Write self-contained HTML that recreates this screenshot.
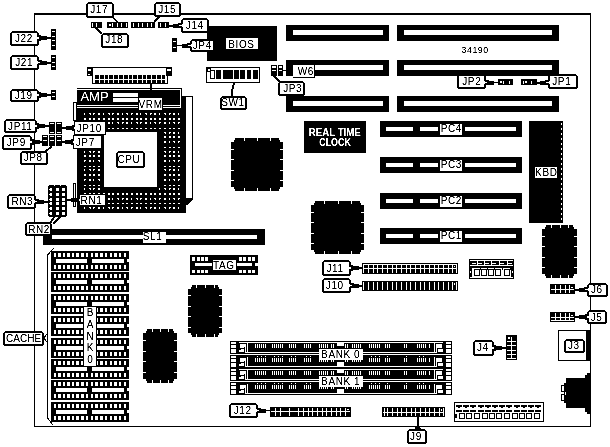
<!DOCTYPE html>
<html><head><meta charset="utf-8"><style>
html,body{margin:0;padding:0;background:#fff;width:610px;height:447px;overflow:hidden}
svg{display:block}
text{font-family:"Liberation Sans",sans-serif}
</style></head><body>
<svg width="610" height="447" viewBox="0 0 610 447" shape-rendering="crispEdges">
<defs><filter id="ta" x="-10%" y="-10%" width="120%" height="120%"><feComponentTransfer><feFuncA type="linear" slope="2" intercept="-0.4"/></feComponentTransfer></filter></defs>
<rect width="610" height="447" fill="#fff"/>
<rect x="34" y="13" width="557" height="2" fill="#000"/>
<rect x="34" y="13" width="1" height="414" fill="#000"/>
<rect x="34" y="426" width="557" height="1" fill="#000"/>
<rect x="590" y="13" width="1" height="414" fill="#000"/>
<rect x="286" y="25" width="103" height="16" fill="#000"/>
<rect x="293" y="30" width="90" height="5" fill="#fff"/>
<rect x="397" y="25" width="162" height="16" fill="#000"/>
<rect x="404" y="30" width="148" height="5" fill="#fff"/>
<rect x="286" y="60" width="103" height="16" fill="#000"/>
<rect x="293" y="65" width="90" height="5" fill="#fff"/>
<rect x="397" y="60" width="162" height="16" fill="#000"/>
<rect x="404" y="65" width="148" height="5" fill="#fff"/>
<rect x="286" y="96" width="103" height="16" fill="#000"/>
<rect x="293" y="101" width="90" height="5" fill="#fff"/>
<rect x="397" y="96" width="162" height="16" fill="#000"/>
<rect x="404" y="101" width="148" height="5" fill="#fff"/>
<text x="461.5" y="52.6" font-size="8.8" fill="#000" text-anchor="start" filter="url(#ta)" letter-spacing="0.55">34190</text>
<rect x="380" y="121" width="142" height="16" fill="#000"/>
<rect x="386" y="127" width="27" height="4" fill="#fff"/>
<rect x="420" y="127" width="18" height="4" fill="#fff"/>
<rect x="465" y="127" width="51" height="4" fill="#fff"/>
<rect x="440" y="124" width="22" height="11" fill="#fff"/>
<text x="451.3" y="132.2" font-size="10" fill="#000" text-anchor="middle" filter="url(#ta)"  letter-spacing="0.6">PC4</text>
<rect x="380" y="157" width="142" height="16" fill="#000"/>
<rect x="386" y="163" width="27" height="4" fill="#fff"/>
<rect x="420" y="163" width="18" height="4" fill="#fff"/>
<rect x="465" y="163" width="51" height="4" fill="#fff"/>
<rect x="440" y="160" width="22" height="11" fill="#fff"/>
<text x="451.3" y="168.2" font-size="10" fill="#000" text-anchor="middle" filter="url(#ta)"  letter-spacing="0.6">PC3</text>
<rect x="380" y="193" width="142" height="16" fill="#000"/>
<rect x="386" y="199" width="27" height="4" fill="#fff"/>
<rect x="420" y="199" width="18" height="4" fill="#fff"/>
<rect x="465" y="199" width="51" height="4" fill="#fff"/>
<rect x="440" y="196" width="22" height="11" fill="#fff"/>
<text x="451.3" y="204.2" font-size="10" fill="#000" text-anchor="middle" filter="url(#ta)"  letter-spacing="0.6">PC2</text>
<rect x="380" y="228" width="142" height="16" fill="#000"/>
<rect x="386" y="234" width="27" height="4" fill="#fff"/>
<rect x="420" y="234" width="18" height="4" fill="#fff"/>
<rect x="465" y="234" width="51" height="4" fill="#fff"/>
<rect x="440" y="231" width="22" height="11" fill="#fff"/>
<text x="451.3" y="239.2" font-size="10" fill="#000" text-anchor="middle" filter="url(#ta)"  letter-spacing="0.6">PC1</text>
<rect x="529" y="121" width="34" height="102" fill="#000"/>
<rect x="561" y="123" width="1" height="2" fill="#fff"/>
<rect x="561" y="128" width="1" height="2" fill="#fff"/>
<rect x="561" y="133" width="1" height="2" fill="#fff"/>
<rect x="561" y="138" width="1" height="2" fill="#fff"/>
<rect x="561" y="143" width="1" height="2" fill="#fff"/>
<rect x="561" y="148" width="1" height="2" fill="#fff"/>
<rect x="561" y="153" width="1" height="2" fill="#fff"/>
<rect x="561" y="158" width="1" height="2" fill="#fff"/>
<rect x="561" y="163" width="1" height="2" fill="#fff"/>
<rect x="561" y="168" width="1" height="2" fill="#fff"/>
<rect x="561" y="173" width="1" height="2" fill="#fff"/>
<rect x="561" y="178" width="1" height="2" fill="#fff"/>
<rect x="561" y="183" width="1" height="2" fill="#fff"/>
<rect x="561" y="188" width="1" height="2" fill="#fff"/>
<rect x="561" y="193" width="1" height="2" fill="#fff"/>
<rect x="561" y="198" width="1" height="2" fill="#fff"/>
<rect x="561" y="203" width="1" height="2" fill="#fff"/>
<rect x="561" y="208" width="1" height="2" fill="#fff"/>
<rect x="561" y="213" width="1" height="2" fill="#fff"/>
<rect x="561" y="218" width="1" height="2" fill="#fff"/>
<rect x="535" y="167" width="22" height="11" fill="#fff"/>
<text x="546.3" y="176" font-size="10" fill="#000" text-anchor="middle" filter="url(#ta)"  letter-spacing="0.6">KBD</text>
<rect x="304" y="121" width="62" height="32" fill="#000"/>
<text x="308.8" y="136" font-size="10.5" fill="#fff" text-anchor="start" filter="url(#ta)" font-weight="bold" textLength="52" lengthAdjust="spacingAndGlyphs">REAL TIME</text>
<text x="319.3" y="146.4" font-size="10.5" fill="#fff" text-anchor="start" filter="url(#ta)" font-weight="bold" textLength="31.5" lengthAdjust="spacingAndGlyphs">CLOCK</text>
<path d="M235,138H279V140H280V142H283V187H280V189H279V191H235V189H234V187H231V142H234V140H235Z" fill="#000"/>
<rect x="244" y="138" width="1" height="3" fill="#fff"/>
<rect x="244" y="188" width="1" height="3" fill="#fff"/>
<rect x="257" y="138" width="1" height="3" fill="#fff"/>
<rect x="257" y="188" width="1" height="3" fill="#fff"/>
<rect x="270" y="138" width="1" height="3" fill="#fff"/>
<rect x="270" y="188" width="1" height="3" fill="#fff"/>
<rect x="231" y="149" width="3" height="1" fill="#fff"/>
<rect x="280" y="149" width="3" height="1" fill="#fff"/>
<rect x="231" y="159" width="3" height="1" fill="#fff"/>
<rect x="280" y="159" width="3" height="1" fill="#fff"/>
<rect x="231" y="170" width="3" height="1" fill="#fff"/>
<rect x="280" y="170" width="3" height="1" fill="#fff"/>
<rect x="231" y="180" width="3" height="1" fill="#fff"/>
<rect x="280" y="180" width="3" height="1" fill="#fff"/>
<path d="M315,201H360V203H361V205H364V250H361V252H360V254H315V252H314V250H311V205H314V203H315Z" fill="#000"/>
<rect x="324" y="201" width="1" height="3" fill="#fff"/>
<rect x="324" y="251" width="1" height="3" fill="#fff"/>
<rect x="338" y="201" width="1" height="3" fill="#fff"/>
<rect x="338" y="251" width="1" height="3" fill="#fff"/>
<rect x="351" y="201" width="1" height="3" fill="#fff"/>
<rect x="351" y="251" width="1" height="3" fill="#fff"/>
<rect x="311" y="212" width="3" height="1" fill="#fff"/>
<rect x="361" y="212" width="3" height="1" fill="#fff"/>
<rect x="311" y="222" width="3" height="1" fill="#fff"/>
<rect x="361" y="222" width="3" height="1" fill="#fff"/>
<rect x="311" y="233" width="3" height="1" fill="#fff"/>
<rect x="361" y="233" width="3" height="1" fill="#fff"/>
<rect x="311" y="243" width="3" height="1" fill="#fff"/>
<rect x="361" y="243" width="3" height="1" fill="#fff"/>
<path d="M192,285H218V287H219V289H222V333H219V335H218V337H192V335H191V333H188V289H191V287H192Z" fill="#000"/>
<rect x="196" y="285" width="1" height="3" fill="#fff"/>
<rect x="196" y="334" width="1" height="3" fill="#fff"/>
<rect x="205" y="285" width="1" height="3" fill="#fff"/>
<rect x="205" y="334" width="1" height="3" fill="#fff"/>
<rect x="214" y="285" width="1" height="3" fill="#fff"/>
<rect x="214" y="334" width="1" height="3" fill="#fff"/>
<rect x="188" y="295" width="3" height="1" fill="#fff"/>
<rect x="219" y="295" width="3" height="1" fill="#fff"/>
<rect x="188" y="306" width="3" height="1" fill="#fff"/>
<rect x="219" y="306" width="3" height="1" fill="#fff"/>
<rect x="188" y="316" width="3" height="1" fill="#fff"/>
<rect x="219" y="316" width="3" height="1" fill="#fff"/>
<rect x="188" y="327" width="3" height="1" fill="#fff"/>
<rect x="219" y="327" width="3" height="1" fill="#fff"/>
<path d="M147,329H173V331H174V333H177V379H174V381H173V383H147V381H146V379H143V333H146V331H147Z" fill="#000"/>
<rect x="152" y="329" width="1" height="3" fill="#fff"/>
<rect x="152" y="380" width="1" height="3" fill="#fff"/>
<rect x="160" y="329" width="1" height="3" fill="#fff"/>
<rect x="160" y="380" width="1" height="3" fill="#fff"/>
<rect x="168" y="329" width="1" height="3" fill="#fff"/>
<rect x="168" y="380" width="1" height="3" fill="#fff"/>
<rect x="143" y="340" width="3" height="1" fill="#fff"/>
<rect x="174" y="340" width="3" height="1" fill="#fff"/>
<rect x="143" y="351" width="3" height="1" fill="#fff"/>
<rect x="174" y="351" width="3" height="1" fill="#fff"/>
<rect x="143" y="361" width="3" height="1" fill="#fff"/>
<rect x="174" y="361" width="3" height="1" fill="#fff"/>
<rect x="143" y="372" width="3" height="1" fill="#fff"/>
<rect x="174" y="372" width="3" height="1" fill="#fff"/>
<path d="M546,225H573V227H574V229H577V274H574V276H573V278H546V276H545V274H542V229H545V227H546Z" fill="#000"/>
<rect x="551" y="225" width="1" height="3" fill="#fff"/>
<rect x="551" y="275" width="1" height="3" fill="#fff"/>
<rect x="560" y="225" width="1" height="3" fill="#fff"/>
<rect x="560" y="275" width="1" height="3" fill="#fff"/>
<rect x="568" y="225" width="1" height="3" fill="#fff"/>
<rect x="568" y="275" width="1" height="3" fill="#fff"/>
<rect x="542" y="236" width="3" height="1" fill="#fff"/>
<rect x="574" y="236" width="3" height="1" fill="#fff"/>
<rect x="542" y="246" width="3" height="1" fill="#fff"/>
<rect x="574" y="246" width="3" height="1" fill="#fff"/>
<rect x="542" y="257" width="3" height="1" fill="#fff"/>
<rect x="574" y="257" width="3" height="1" fill="#fff"/>
<rect x="542" y="267" width="3" height="1" fill="#fff"/>
<rect x="574" y="267" width="3" height="1" fill="#fff"/>
<rect x="550" y="284" width="25" height="10" fill="#000"/>
<rect x="551" y="289" width="23" height="1" fill="#fff"/>
<rect x="555" y="285" width="1" height="8" fill="#fff"/>
<rect x="560" y="285" width="1" height="8" fill="#fff"/>
<rect x="565" y="285" width="1" height="8" fill="#fff"/>
<rect x="569" y="285" width="1" height="8" fill="#fff"/>
<rect x="571" y="287" width="2" height="1" fill="#fff"/>
<rect x="588" y="284" width="19" height="12" rx="2.5" fill="#fff" stroke="#000" stroke-width="2"/>
<text x="596.9" y="293" font-size="10" fill="#000" text-anchor="middle" filter="url(#ta)"  letter-spacing="0.6">J6</text>
<path d="M588,286.0L584,287.5H579V291.5H584L588,293.0Z" fill="#000"/>
<rect x="575" y="288.5" width="4" height="2.0" fill="#000"/>
<path d="M589,288.0L585.5,289.5L589,291.0Z" fill="#fff"/>
<rect x="550" y="312" width="25" height="10" fill="#000"/>
<rect x="551" y="317" width="23" height="1" fill="#fff"/>
<rect x="551" y="320" width="23" height="1" fill="#fff"/>
<rect x="555" y="313" width="1" height="8" fill="#fff"/>
<rect x="560" y="313" width="1" height="8" fill="#fff"/>
<rect x="565" y="313" width="1" height="8" fill="#fff"/>
<rect x="569" y="313" width="1" height="8" fill="#fff"/>
<rect x="571" y="315" width="2" height="1" fill="#fff"/>
<rect x="588" y="311" width="18" height="12" rx="2.5" fill="#fff" stroke="#000" stroke-width="2"/>
<text x="596.5999999999999" y="320.9" font-size="10" fill="#000" text-anchor="middle" filter="url(#ta)"  letter-spacing="0.6">J5</text>
<path d="M588,313.5L584,315H579V319H584L588,320.5Z" fill="#000"/>
<rect x="575" y="316.0" width="4" height="2.0" fill="#000"/>
<path d="M589,315.5L585.5,317L589,318.5Z" fill="#fff"/>
<rect x="558.5" y="330.5" width="28" height="30" fill="#fff" stroke="#000" stroke-width="1"/>
<rect x="586" y="330" width="5" height="31" fill="#000"/>
<rect x="565" y="340" width="19" height="12" rx="2.5" fill="#fff" stroke="#000" stroke-width="2"/>
<text x="573.8" y="349.2" font-size="10" fill="#000" text-anchor="middle" filter="url(#ta)"  letter-spacing="0.6">J3</text>
<path d="M566,378H585V375H587V373H591V414H587V412H585V408H566V403H564V383H566Z" fill="#000"/>
<rect x="561.5" y="385.5" width="3" height="6" fill="#fff" stroke="#000" stroke-width="1"/>
<rect x="561.5" y="394.5" width="3" height="6" fill="#fff" stroke="#000" stroke-width="1"/>
<rect x="565" y="392" width="1" height="3" fill="#fff"/>
<rect x="454.5" y="402.5" width="89" height="19" fill="#fff" stroke="#000" stroke-width="1"/>
<rect x="456" y="405" width="6" height="2" fill="#000"/>
<rect x="458" y="407" width="2" height="1" fill="#000"/>
<rect x="456" y="410" width="6" height="2" fill="#000"/>
<rect x="463" y="405" width="6" height="2" fill="#000"/>
<rect x="465" y="407" width="2" height="1" fill="#000"/>
<rect x="463" y="410" width="6" height="2" fill="#000"/>
<rect x="470" y="405" width="6" height="2" fill="#000"/>
<rect x="472" y="407" width="2" height="1" fill="#000"/>
<rect x="470" y="410" width="6" height="2" fill="#000"/>
<rect x="478" y="405" width="6" height="2" fill="#000"/>
<rect x="480" y="407" width="2" height="1" fill="#000"/>
<rect x="478" y="410" width="6" height="2" fill="#000"/>
<rect x="485" y="405" width="6" height="2" fill="#000"/>
<rect x="487" y="407" width="2" height="1" fill="#000"/>
<rect x="485" y="410" width="6" height="2" fill="#000"/>
<rect x="492" y="405" width="6" height="2" fill="#000"/>
<rect x="494" y="407" width="2" height="1" fill="#000"/>
<rect x="492" y="410" width="6" height="2" fill="#000"/>
<rect x="499" y="405" width="6" height="2" fill="#000"/>
<rect x="501" y="407" width="2" height="1" fill="#000"/>
<rect x="499" y="410" width="6" height="2" fill="#000"/>
<rect x="506" y="405" width="6" height="2" fill="#000"/>
<rect x="508" y="407" width="2" height="1" fill="#000"/>
<rect x="506" y="410" width="6" height="2" fill="#000"/>
<rect x="514" y="405" width="6" height="2" fill="#000"/>
<rect x="516" y="407" width="2" height="1" fill="#000"/>
<rect x="514" y="410" width="6" height="2" fill="#000"/>
<rect x="521" y="405" width="6" height="2" fill="#000"/>
<rect x="523" y="407" width="2" height="1" fill="#000"/>
<rect x="521" y="410" width="6" height="2" fill="#000"/>
<rect x="528" y="405" width="6" height="2" fill="#000"/>
<rect x="530" y="407" width="2" height="1" fill="#000"/>
<rect x="528" y="410" width="6" height="2" fill="#000"/>
<rect x="535" y="405" width="6" height="2" fill="#000"/>
<rect x="537" y="407" width="2" height="1" fill="#000"/>
<rect x="535" y="410" width="6" height="2" fill="#000"/>
<rect x="459.5" y="413.5" width="5" height="5" fill="#fff" stroke="#000" stroke-width="1"/>
<rect x="466.5" y="413.5" width="5" height="5" fill="#fff" stroke="#000" stroke-width="1"/>
<rect x="474.5" y="413.5" width="5" height="5" fill="#fff" stroke="#000" stroke-width="1"/>
<rect x="482.5" y="413.5" width="5" height="5" fill="#fff" stroke="#000" stroke-width="1"/>
<rect x="489.5" y="413.5" width="5" height="5" fill="#fff" stroke="#000" stroke-width="1"/>
<rect x="496.5" y="413.5" width="5" height="5" fill="#fff" stroke="#000" stroke-width="1"/>
<rect x="504.5" y="413.5" width="5" height="5" fill="#fff" stroke="#000" stroke-width="1"/>
<rect x="512.5" y="413.5" width="5" height="5" fill="#fff" stroke="#000" stroke-width="1"/>
<rect x="519.5" y="413.5" width="5" height="5" fill="#fff" stroke="#000" stroke-width="1"/>
<rect x="526.5" y="413.5" width="5" height="5" fill="#fff" stroke="#000" stroke-width="1"/>
<rect x="534.5" y="413.5" width="5" height="5" fill="#fff" stroke="#000" stroke-width="1"/>
<rect x="454" y="414" width="3" height="4" fill="#000"/>
<rect x="506" y="335" width="11" height="25" fill="#000"/>
<rect x="507" y="341" width="9" height="1" fill="#fff"/>
<rect x="507" y="345" width="9" height="1" fill="#fff"/>
<rect x="507" y="350" width="9" height="1" fill="#fff"/>
<rect x="507" y="354" width="9" height="1" fill="#fff"/>
<rect x="507" y="358" width="9" height="1" fill="#fff"/>
<rect x="511" y="337" width="1" height="22" fill="#fff"/>
<rect x="508" y="337" width="2" height="2" fill="#fff"/>
<rect x="474" y="341" width="19" height="14" rx="2.5" fill="#fff" stroke="#000" stroke-width="2"/>
<text x="482.8" y="351.2" font-size="10" fill="#000" text-anchor="middle" filter="url(#ta)"  letter-spacing="0.6">J4</text>
<path d="M493,344.5L497,346H502V350H497L493,351.5Z" fill="#000"/>
<rect x="502" y="347.0" width="4" height="2.0" fill="#000"/>
<path d="M492,346.5L495.5,348L492,349.5Z" fill="#fff"/>
<rect x="382" y="407" width="63" height="10" fill="#000"/>
<rect x="384" y="408" width="1" height="8" fill="#fff"/>
<rect x="387" y="408" width="1" height="8" fill="#fff"/>
<rect x="392" y="408" width="1" height="8" fill="#fff"/>
<rect x="397" y="408" width="1" height="8" fill="#fff"/>
<rect x="401" y="408" width="1" height="8" fill="#fff"/>
<rect x="406" y="408" width="1" height="8" fill="#fff"/>
<rect x="411" y="408" width="1" height="8" fill="#fff"/>
<rect x="415" y="408" width="1" height="8" fill="#fff"/>
<rect x="420" y="408" width="1" height="8" fill="#fff"/>
<rect x="425" y="408" width="1" height="8" fill="#fff"/>
<rect x="429" y="408" width="1" height="8" fill="#fff"/>
<rect x="434" y="408" width="1" height="8" fill="#fff"/>
<rect x="439" y="408" width="1" height="8" fill="#fff"/>
<rect x="443" y="408" width="1" height="8" fill="#fff"/>
<rect x="383" y="412" width="61" height="1" fill="#fff"/>
<rect x="441" y="409" width="1" height="2" fill="#fff"/>
<rect x="408" y="430" width="18" height="13" rx="2.5" fill="#fff" stroke="#000" stroke-width="2"/>
<text x="416.0" y="439.9" font-size="10" fill="#000" text-anchor="middle" filter="url(#ta)"  letter-spacing="0.6">J9</text>
<rect x="417" y="417" width="2" height="9" fill="#000"/>
<path d="M416,426H420L421,429H415Z" fill="#000"/>
<rect x="270" y="407" width="81" height="10" fill="#000"/>
<rect x="275" y="408" width="1" height="8" fill="#fff"/>
<rect x="280" y="408" width="1" height="8" fill="#fff"/>
<rect x="289" y="408" width="1" height="8" fill="#fff"/>
<rect x="298" y="408" width="1" height="8" fill="#fff"/>
<rect x="303" y="408" width="1" height="8" fill="#fff"/>
<rect x="308" y="408" width="1" height="8" fill="#fff"/>
<rect x="312" y="408" width="1" height="8" fill="#fff"/>
<rect x="317" y="408" width="1" height="8" fill="#fff"/>
<rect x="322" y="408" width="1" height="8" fill="#fff"/>
<rect x="326" y="408" width="1" height="8" fill="#fff"/>
<rect x="331" y="408" width="1" height="8" fill="#fff"/>
<rect x="336" y="408" width="1" height="8" fill="#fff"/>
<rect x="340" y="408" width="1" height="8" fill="#fff"/>
<rect x="345" y="408" width="1" height="8" fill="#fff"/>
<rect x="271" y="411" width="79" height="1" fill="#fff"/>
<rect x="347" y="409" width="2" height="1" fill="#fff"/>
<rect x="230" y="404" width="27" height="13" rx="2.5" fill="#fff" stroke="#000" stroke-width="2"/>
<text x="242.70000000000002" y="413.8" font-size="10" fill="#000" text-anchor="middle" filter="url(#ta)"  letter-spacing="0.6">J12</text>
<path d="M257,407.0L261,408.5H266V412.5H261L257,414.0Z" fill="#000"/>
<rect x="266" y="410.0" width="4" height="1.0" fill="#000"/>
<path d="M256,409.0L259.5,410.5L256,412.0Z" fill="#fff"/>
<rect x="362" y="263" width="96" height="11" fill="#000"/>
<rect x="363" y="264" width="1" height="9" fill="#fff"/>
<rect x="368" y="264" width="1" height="9" fill="#fff"/>
<rect x="373" y="264" width="1" height="9" fill="#fff"/>
<rect x="377" y="264" width="1" height="9" fill="#fff"/>
<rect x="382" y="264" width="1" height="9" fill="#fff"/>
<rect x="387" y="264" width="1" height="9" fill="#fff"/>
<rect x="392" y="264" width="1" height="9" fill="#fff"/>
<rect x="396" y="264" width="1" height="9" fill="#fff"/>
<rect x="401" y="264" width="1" height="9" fill="#fff"/>
<rect x="406" y="264" width="1" height="9" fill="#fff"/>
<rect x="410" y="264" width="1" height="9" fill="#fff"/>
<rect x="415" y="264" width="1" height="9" fill="#fff"/>
<rect x="420" y="264" width="1" height="9" fill="#fff"/>
<rect x="424" y="264" width="1" height="9" fill="#fff"/>
<rect x="429" y="264" width="1" height="9" fill="#fff"/>
<rect x="434" y="264" width="1" height="9" fill="#fff"/>
<rect x="438" y="264" width="1" height="9" fill="#fff"/>
<rect x="443" y="264" width="1" height="9" fill="#fff"/>
<rect x="448" y="264" width="1" height="9" fill="#fff"/>
<rect x="452" y="264" width="1" height="9" fill="#fff"/>
<rect x="363" y="264" width="94" height="1" fill="#fff"/>
<rect x="363" y="268" width="94" height="1" fill="#fff"/>
<rect x="456" y="264" width="1" height="9" fill="#fff"/>
<rect x="453" y="265" width="3" height="3" fill="#000"/>
<rect x="454" y="266" width="1" height="1" fill="#fff"/>
<rect x="323" y="261" width="27" height="14" rx="2.5" fill="#fff" stroke="#000" stroke-width="2"/>
<text x="335.0" y="271.8" font-size="10" fill="#000" text-anchor="middle" filter="url(#ta)"  letter-spacing="0.6">J11</text>
<path d="M350,264.5L354,266H359V270H354L350,271.5Z" fill="#000"/>
<rect x="359" y="267.0" width="3" height="2.0" fill="#000"/>
<path d="M349,266.5L352.5,268L349,269.5Z" fill="#fff"/>
<rect x="362" y="281" width="96" height="10" fill="#000"/>
<rect x="363" y="282" width="1" height="8" fill="#fff"/>
<rect x="368" y="282" width="1" height="8" fill="#fff"/>
<rect x="373" y="282" width="1" height="8" fill="#fff"/>
<rect x="377" y="282" width="1" height="8" fill="#fff"/>
<rect x="382" y="282" width="1" height="8" fill="#fff"/>
<rect x="387" y="282" width="1" height="8" fill="#fff"/>
<rect x="392" y="282" width="1" height="8" fill="#fff"/>
<rect x="396" y="282" width="1" height="8" fill="#fff"/>
<rect x="401" y="282" width="1" height="8" fill="#fff"/>
<rect x="406" y="282" width="1" height="8" fill="#fff"/>
<rect x="410" y="282" width="1" height="8" fill="#fff"/>
<rect x="415" y="282" width="1" height="8" fill="#fff"/>
<rect x="420" y="282" width="1" height="8" fill="#fff"/>
<rect x="424" y="282" width="1" height="8" fill="#fff"/>
<rect x="429" y="282" width="1" height="8" fill="#fff"/>
<rect x="434" y="282" width="1" height="8" fill="#fff"/>
<rect x="438" y="282" width="1" height="8" fill="#fff"/>
<rect x="443" y="282" width="1" height="8" fill="#fff"/>
<rect x="448" y="282" width="1" height="8" fill="#fff"/>
<rect x="452" y="282" width="1" height="8" fill="#fff"/>
<rect x="456" y="282" width="1" height="8" fill="#fff"/>
<rect x="453" y="282" width="3" height="8" fill="#000"/>
<rect x="454" y="283" width="1" height="2" fill="#fff"/>
<rect x="323" y="279" width="27" height="13" rx="2.5" fill="#fff" stroke="#000" stroke-width="2"/>
<text x="334.8" y="289.1" font-size="10" fill="#000" text-anchor="middle" filter="url(#ta)"  letter-spacing="0.6">J10</text>
<path d="M350,282.0L354,283.5H359V287.5H354L350,289.0Z" fill="#000"/>
<rect x="359" y="284.5" width="3" height="2.0" fill="#000"/>
<path d="M349,284.0L352.5,285.5L349,287.0Z" fill="#fff"/>
<rect x="469.5" y="259.5" width="44" height="19" fill="#fff" stroke="#000" stroke-width="1"/>
<rect x="470" y="261" width="43" height="4" fill="#000"/>
<rect x="472" y="263" width="4" height="1" fill="#fff"/>
<rect x="478" y="263" width="4" height="1" fill="#fff"/>
<rect x="485" y="263" width="4" height="1" fill="#fff"/>
<rect x="492" y="263" width="4" height="1" fill="#fff"/>
<rect x="500" y="263" width="4" height="1" fill="#fff"/>
<rect x="508" y="263" width="4" height="1" fill="#fff"/>
<rect x="477" y="261" width="1" height="4" fill="#fff"/>
<rect x="484" y="261" width="1" height="4" fill="#fff"/>
<rect x="491" y="261" width="1" height="4" fill="#fff"/>
<rect x="499" y="261" width="1" height="4" fill="#fff"/>
<rect x="507" y="261" width="1" height="4" fill="#fff"/>
<rect x="470" y="266" width="43" height="2" fill="#000"/>
<rect x="480" y="268" width="1" height="2" fill="#000"/>
<rect x="487" y="268" width="1" height="2" fill="#000"/>
<rect x="494" y="268" width="1" height="2" fill="#000"/>
<rect x="502" y="268" width="1" height="2" fill="#000"/>
<rect x="510" y="268" width="1" height="2" fill="#000"/>
<rect x="474.5" y="269.5" width="5" height="6" fill="#fff" stroke="#000" stroke-width="1"/>
<rect x="481.5" y="269.5" width="5" height="6" fill="#fff" stroke="#000" stroke-width="1"/>
<rect x="488.5" y="269.5" width="5" height="6" fill="#fff" stroke="#000" stroke-width="1"/>
<rect x="495.5" y="269.5" width="5" height="6" fill="#fff" stroke="#000" stroke-width="1"/>
<rect x="504.5" y="269.5" width="5" height="6" fill="#fff" stroke="#000" stroke-width="1"/>
<rect x="470" y="268" width="2" height="9" fill="#000"/>
<rect x="470" y="271" width="1" height="2" fill="#fff"/>
<rect x="511" y="268" width="2" height="9" fill="#000"/>
<rect x="512" y="271" width="1" height="2" fill="#fff"/>
<rect x="230" y="341" width="222" height="54" fill="#000"/>
<rect x="230" y="354" width="222" height="1" fill="#fff"/>
<rect x="230" y="381" width="222" height="1" fill="#fff"/>
<rect x="231" y="342" width="5" height="2" fill="#fff"/>
<rect x="446" y="342" width="5" height="2" fill="#fff"/>
<rect x="231" y="345" width="5" height="3" fill="#fff"/>
<rect x="446" y="345" width="5" height="3" fill="#fff"/>
<rect x="231" y="349" width="5" height="4" fill="#fff"/>
<rect x="446" y="349" width="5" height="4" fill="#fff"/>
<rect x="239" y="342" width="204" height="1" fill="#fff"/>
<rect x="245" y="352" width="191" height="1" fill="#fff"/>
<rect x="247" y="343" width="1" height="9" fill="#fff"/>
<rect x="434" y="343" width="1" height="9" fill="#fff"/>
<rect x="240" y="344" width="6" height="4" fill="#fff"/>
<rect x="239" y="349" width="5" height="3" fill="#fff"/>
<rect x="245" y="348" width="1" height="5" fill="#fff"/>
<rect x="244" y="347" width="1" height="1" fill="#000"/>
<rect x="239" y="349" width="2" height="1" fill="#000"/>
<rect x="436" y="344" width="6" height="4" fill="#fff"/>
<rect x="438" y="349" width="5" height="3" fill="#fff"/>
<rect x="436" y="348" width="1" height="5" fill="#fff"/>
<rect x="255" y="344" width="1" height="4" fill="#fff"/>
<rect x="257" y="344" width="1" height="4" fill="#fff"/>
<rect x="259" y="344" width="1" height="4" fill="#fff"/>
<rect x="261" y="344" width="1" height="4" fill="#fff"/>
<rect x="263" y="344" width="1" height="4" fill="#fff"/>
<rect x="265" y="344" width="1" height="4" fill="#fff"/>
<rect x="272" y="344" width="1" height="4" fill="#fff"/>
<rect x="274" y="344" width="1" height="4" fill="#fff"/>
<rect x="276" y="344" width="1" height="4" fill="#fff"/>
<rect x="278" y="344" width="1" height="4" fill="#fff"/>
<rect x="280" y="344" width="1" height="4" fill="#fff"/>
<rect x="282" y="344" width="1" height="4" fill="#fff"/>
<rect x="289" y="344" width="1" height="4" fill="#fff"/>
<rect x="291" y="344" width="1" height="4" fill="#fff"/>
<rect x="293" y="344" width="1" height="4" fill="#fff"/>
<rect x="295" y="344" width="1" height="4" fill="#fff"/>
<rect x="304" y="344" width="1" height="4" fill="#fff"/>
<rect x="306" y="344" width="1" height="4" fill="#fff"/>
<rect x="308" y="344" width="1" height="4" fill="#fff"/>
<rect x="310" y="344" width="1" height="4" fill="#fff"/>
<rect x="319" y="344" width="1" height="4" fill="#fff"/>
<rect x="321" y="344" width="1" height="4" fill="#fff"/>
<rect x="323" y="344" width="1" height="4" fill="#fff"/>
<rect x="325" y="344" width="1" height="4" fill="#fff"/>
<rect x="327" y="344" width="1" height="4" fill="#fff"/>
<rect x="331" y="344" width="1" height="4" fill="#fff"/>
<rect x="333" y="344" width="1" height="4" fill="#fff"/>
<rect x="345" y="344" width="1" height="4" fill="#fff"/>
<rect x="347" y="344" width="1" height="4" fill="#fff"/>
<rect x="352" y="344" width="1" height="4" fill="#fff"/>
<rect x="354" y="344" width="1" height="4" fill="#fff"/>
<rect x="356" y="344" width="1" height="4" fill="#fff"/>
<rect x="358" y="344" width="1" height="4" fill="#fff"/>
<rect x="360" y="344" width="1" height="4" fill="#fff"/>
<rect x="369" y="344" width="1" height="4" fill="#fff"/>
<rect x="371" y="344" width="1" height="4" fill="#fff"/>
<rect x="373" y="344" width="1" height="4" fill="#fff"/>
<rect x="375" y="344" width="1" height="4" fill="#fff"/>
<rect x="377" y="344" width="1" height="4" fill="#fff"/>
<rect x="379" y="344" width="1" height="4" fill="#fff"/>
<rect x="385" y="344" width="1" height="4" fill="#fff"/>
<rect x="387" y="344" width="1" height="4" fill="#fff"/>
<rect x="389" y="344" width="1" height="4" fill="#fff"/>
<rect x="404" y="344" width="1" height="4" fill="#fff"/>
<rect x="406" y="344" width="1" height="4" fill="#fff"/>
<rect x="417" y="344" width="1" height="4" fill="#fff"/>
<rect x="419" y="344" width="1" height="4" fill="#fff"/>
<rect x="421" y="344" width="1" height="4" fill="#fff"/>
<rect x="423" y="344" width="1" height="4" fill="#fff"/>
<rect x="425" y="344" width="1" height="4" fill="#fff"/>
<rect x="429" y="344" width="1" height="4" fill="#fff"/>
<rect x="337" y="343" width="7" height="3" fill="#fff"/>
<rect x="231" y="356" width="5" height="2" fill="#fff"/>
<rect x="446" y="356" width="5" height="2" fill="#fff"/>
<rect x="231" y="359" width="5" height="3" fill="#fff"/>
<rect x="446" y="359" width="5" height="3" fill="#fff"/>
<rect x="231" y="363" width="5" height="4" fill="#fff"/>
<rect x="446" y="363" width="5" height="4" fill="#fff"/>
<rect x="245" y="366" width="191" height="1" fill="#fff"/>
<rect x="247" y="357" width="1" height="9" fill="#fff"/>
<rect x="434" y="357" width="1" height="9" fill="#fff"/>
<rect x="240" y="358" width="6" height="4" fill="#fff"/>
<rect x="239" y="363" width="5" height="3" fill="#fff"/>
<rect x="245" y="362" width="1" height="5" fill="#fff"/>
<rect x="244" y="361" width="1" height="1" fill="#000"/>
<rect x="239" y="363" width="2" height="1" fill="#000"/>
<rect x="436" y="358" width="6" height="4" fill="#fff"/>
<rect x="438" y="363" width="5" height="3" fill="#fff"/>
<rect x="436" y="362" width="1" height="5" fill="#fff"/>
<rect x="255" y="358" width="1" height="4" fill="#fff"/>
<rect x="257" y="358" width="1" height="4" fill="#fff"/>
<rect x="257" y="356" width="1" height="1" fill="#fff"/>
<rect x="259" y="358" width="1" height="4" fill="#fff"/>
<rect x="261" y="358" width="1" height="4" fill="#fff"/>
<rect x="261" y="356" width="1" height="1" fill="#fff"/>
<rect x="263" y="358" width="1" height="4" fill="#fff"/>
<rect x="265" y="358" width="1" height="4" fill="#fff"/>
<rect x="265" y="356" width="1" height="1" fill="#fff"/>
<rect x="272" y="358" width="1" height="4" fill="#fff"/>
<rect x="274" y="358" width="1" height="4" fill="#fff"/>
<rect x="274" y="356" width="1" height="1" fill="#fff"/>
<rect x="276" y="358" width="1" height="4" fill="#fff"/>
<rect x="278" y="358" width="1" height="4" fill="#fff"/>
<rect x="278" y="356" width="1" height="1" fill="#fff"/>
<rect x="280" y="358" width="1" height="4" fill="#fff"/>
<rect x="282" y="358" width="1" height="4" fill="#fff"/>
<rect x="282" y="356" width="1" height="1" fill="#fff"/>
<rect x="289" y="358" width="1" height="4" fill="#fff"/>
<rect x="291" y="358" width="1" height="4" fill="#fff"/>
<rect x="291" y="356" width="1" height="1" fill="#fff"/>
<rect x="293" y="358" width="1" height="4" fill="#fff"/>
<rect x="295" y="358" width="1" height="4" fill="#fff"/>
<rect x="295" y="356" width="1" height="1" fill="#fff"/>
<rect x="304" y="358" width="1" height="4" fill="#fff"/>
<rect x="306" y="358" width="1" height="4" fill="#fff"/>
<rect x="306" y="356" width="1" height="1" fill="#fff"/>
<rect x="308" y="358" width="1" height="4" fill="#fff"/>
<rect x="310" y="358" width="1" height="4" fill="#fff"/>
<rect x="310" y="356" width="1" height="1" fill="#fff"/>
<rect x="319" y="358" width="1" height="4" fill="#fff"/>
<rect x="321" y="358" width="1" height="4" fill="#fff"/>
<rect x="321" y="356" width="1" height="1" fill="#fff"/>
<rect x="323" y="358" width="1" height="4" fill="#fff"/>
<rect x="325" y="358" width="1" height="4" fill="#fff"/>
<rect x="325" y="356" width="1" height="1" fill="#fff"/>
<rect x="327" y="358" width="1" height="4" fill="#fff"/>
<rect x="331" y="358" width="1" height="4" fill="#fff"/>
<rect x="333" y="358" width="1" height="4" fill="#fff"/>
<rect x="333" y="356" width="1" height="1" fill="#fff"/>
<rect x="345" y="358" width="1" height="4" fill="#fff"/>
<rect x="347" y="358" width="1" height="4" fill="#fff"/>
<rect x="347" y="356" width="1" height="1" fill="#fff"/>
<rect x="352" y="358" width="1" height="4" fill="#fff"/>
<rect x="354" y="358" width="1" height="4" fill="#fff"/>
<rect x="354" y="356" width="1" height="1" fill="#fff"/>
<rect x="356" y="358" width="1" height="4" fill="#fff"/>
<rect x="358" y="358" width="1" height="4" fill="#fff"/>
<rect x="358" y="356" width="1" height="1" fill="#fff"/>
<rect x="360" y="358" width="1" height="4" fill="#fff"/>
<rect x="369" y="358" width="1" height="4" fill="#fff"/>
<rect x="371" y="358" width="1" height="4" fill="#fff"/>
<rect x="371" y="356" width="1" height="1" fill="#fff"/>
<rect x="373" y="358" width="1" height="4" fill="#fff"/>
<rect x="375" y="358" width="1" height="4" fill="#fff"/>
<rect x="375" y="356" width="1" height="1" fill="#fff"/>
<rect x="377" y="358" width="1" height="4" fill="#fff"/>
<rect x="379" y="358" width="1" height="4" fill="#fff"/>
<rect x="379" y="356" width="1" height="1" fill="#fff"/>
<rect x="385" y="358" width="1" height="4" fill="#fff"/>
<rect x="387" y="358" width="1" height="4" fill="#fff"/>
<rect x="387" y="356" width="1" height="1" fill="#fff"/>
<rect x="389" y="358" width="1" height="4" fill="#fff"/>
<rect x="404" y="358" width="1" height="4" fill="#fff"/>
<rect x="406" y="358" width="1" height="4" fill="#fff"/>
<rect x="406" y="356" width="1" height="1" fill="#fff"/>
<rect x="417" y="358" width="1" height="4" fill="#fff"/>
<rect x="419" y="358" width="1" height="4" fill="#fff"/>
<rect x="419" y="356" width="1" height="1" fill="#fff"/>
<rect x="421" y="358" width="1" height="4" fill="#fff"/>
<rect x="423" y="358" width="1" height="4" fill="#fff"/>
<rect x="423" y="356" width="1" height="1" fill="#fff"/>
<rect x="425" y="358" width="1" height="4" fill="#fff"/>
<rect x="429" y="358" width="1" height="4" fill="#fff"/>
<rect x="337" y="362" width="7" height="4" fill="#fff"/>
<rect x="231" y="369" width="5" height="2" fill="#fff"/>
<rect x="446" y="369" width="5" height="2" fill="#fff"/>
<rect x="231" y="372" width="5" height="3" fill="#fff"/>
<rect x="446" y="372" width="5" height="3" fill="#fff"/>
<rect x="231" y="376" width="5" height="4" fill="#fff"/>
<rect x="446" y="376" width="5" height="4" fill="#fff"/>
<rect x="239" y="369" width="204" height="1" fill="#fff"/>
<rect x="245" y="379" width="191" height="1" fill="#fff"/>
<rect x="247" y="370" width="1" height="9" fill="#fff"/>
<rect x="434" y="370" width="1" height="9" fill="#fff"/>
<rect x="240" y="371" width="6" height="4" fill="#fff"/>
<rect x="239" y="376" width="5" height="3" fill="#fff"/>
<rect x="245" y="375" width="1" height="5" fill="#fff"/>
<rect x="244" y="374" width="1" height="1" fill="#000"/>
<rect x="239" y="376" width="2" height="1" fill="#000"/>
<rect x="436" y="371" width="6" height="4" fill="#fff"/>
<rect x="438" y="376" width="5" height="3" fill="#fff"/>
<rect x="436" y="375" width="1" height="5" fill="#fff"/>
<rect x="255" y="371" width="1" height="4" fill="#fff"/>
<rect x="257" y="371" width="1" height="4" fill="#fff"/>
<rect x="259" y="371" width="1" height="4" fill="#fff"/>
<rect x="261" y="371" width="1" height="4" fill="#fff"/>
<rect x="263" y="371" width="1" height="4" fill="#fff"/>
<rect x="265" y="371" width="1" height="4" fill="#fff"/>
<rect x="272" y="371" width="1" height="4" fill="#fff"/>
<rect x="274" y="371" width="1" height="4" fill="#fff"/>
<rect x="276" y="371" width="1" height="4" fill="#fff"/>
<rect x="278" y="371" width="1" height="4" fill="#fff"/>
<rect x="280" y="371" width="1" height="4" fill="#fff"/>
<rect x="282" y="371" width="1" height="4" fill="#fff"/>
<rect x="289" y="371" width="1" height="4" fill="#fff"/>
<rect x="291" y="371" width="1" height="4" fill="#fff"/>
<rect x="293" y="371" width="1" height="4" fill="#fff"/>
<rect x="295" y="371" width="1" height="4" fill="#fff"/>
<rect x="304" y="371" width="1" height="4" fill="#fff"/>
<rect x="306" y="371" width="1" height="4" fill="#fff"/>
<rect x="308" y="371" width="1" height="4" fill="#fff"/>
<rect x="310" y="371" width="1" height="4" fill="#fff"/>
<rect x="319" y="371" width="1" height="4" fill="#fff"/>
<rect x="321" y="371" width="1" height="4" fill="#fff"/>
<rect x="323" y="371" width="1" height="4" fill="#fff"/>
<rect x="325" y="371" width="1" height="4" fill="#fff"/>
<rect x="327" y="371" width="1" height="4" fill="#fff"/>
<rect x="331" y="371" width="1" height="4" fill="#fff"/>
<rect x="333" y="371" width="1" height="4" fill="#fff"/>
<rect x="345" y="371" width="1" height="4" fill="#fff"/>
<rect x="347" y="371" width="1" height="4" fill="#fff"/>
<rect x="352" y="371" width="1" height="4" fill="#fff"/>
<rect x="354" y="371" width="1" height="4" fill="#fff"/>
<rect x="356" y="371" width="1" height="4" fill="#fff"/>
<rect x="358" y="371" width="1" height="4" fill="#fff"/>
<rect x="360" y="371" width="1" height="4" fill="#fff"/>
<rect x="369" y="371" width="1" height="4" fill="#fff"/>
<rect x="371" y="371" width="1" height="4" fill="#fff"/>
<rect x="373" y="371" width="1" height="4" fill="#fff"/>
<rect x="375" y="371" width="1" height="4" fill="#fff"/>
<rect x="377" y="371" width="1" height="4" fill="#fff"/>
<rect x="379" y="371" width="1" height="4" fill="#fff"/>
<rect x="385" y="371" width="1" height="4" fill="#fff"/>
<rect x="387" y="371" width="1" height="4" fill="#fff"/>
<rect x="389" y="371" width="1" height="4" fill="#fff"/>
<rect x="404" y="371" width="1" height="4" fill="#fff"/>
<rect x="406" y="371" width="1" height="4" fill="#fff"/>
<rect x="417" y="371" width="1" height="4" fill="#fff"/>
<rect x="419" y="371" width="1" height="4" fill="#fff"/>
<rect x="421" y="371" width="1" height="4" fill="#fff"/>
<rect x="423" y="371" width="1" height="4" fill="#fff"/>
<rect x="425" y="371" width="1" height="4" fill="#fff"/>
<rect x="429" y="371" width="1" height="4" fill="#fff"/>
<rect x="337" y="370" width="7" height="3" fill="#fff"/>
<rect x="231" y="383" width="5" height="2" fill="#fff"/>
<rect x="446" y="383" width="5" height="2" fill="#fff"/>
<rect x="231" y="386" width="5" height="3" fill="#fff"/>
<rect x="446" y="386" width="5" height="3" fill="#fff"/>
<rect x="231" y="390" width="5" height="4" fill="#fff"/>
<rect x="446" y="390" width="5" height="4" fill="#fff"/>
<rect x="245" y="393" width="191" height="1" fill="#fff"/>
<rect x="247" y="384" width="1" height="9" fill="#fff"/>
<rect x="434" y="384" width="1" height="9" fill="#fff"/>
<rect x="240" y="385" width="6" height="4" fill="#fff"/>
<rect x="239" y="390" width="5" height="3" fill="#fff"/>
<rect x="245" y="389" width="1" height="5" fill="#fff"/>
<rect x="244" y="388" width="1" height="1" fill="#000"/>
<rect x="239" y="390" width="2" height="1" fill="#000"/>
<rect x="436" y="385" width="6" height="4" fill="#fff"/>
<rect x="438" y="390" width="5" height="3" fill="#fff"/>
<rect x="436" y="389" width="1" height="5" fill="#fff"/>
<rect x="255" y="385" width="1" height="4" fill="#fff"/>
<rect x="257" y="385" width="1" height="4" fill="#fff"/>
<rect x="257" y="383" width="1" height="1" fill="#fff"/>
<rect x="259" y="385" width="1" height="4" fill="#fff"/>
<rect x="261" y="385" width="1" height="4" fill="#fff"/>
<rect x="261" y="383" width="1" height="1" fill="#fff"/>
<rect x="263" y="385" width="1" height="4" fill="#fff"/>
<rect x="265" y="385" width="1" height="4" fill="#fff"/>
<rect x="265" y="383" width="1" height="1" fill="#fff"/>
<rect x="272" y="385" width="1" height="4" fill="#fff"/>
<rect x="274" y="385" width="1" height="4" fill="#fff"/>
<rect x="274" y="383" width="1" height="1" fill="#fff"/>
<rect x="276" y="385" width="1" height="4" fill="#fff"/>
<rect x="278" y="385" width="1" height="4" fill="#fff"/>
<rect x="278" y="383" width="1" height="1" fill="#fff"/>
<rect x="280" y="385" width="1" height="4" fill="#fff"/>
<rect x="282" y="385" width="1" height="4" fill="#fff"/>
<rect x="282" y="383" width="1" height="1" fill="#fff"/>
<rect x="289" y="385" width="1" height="4" fill="#fff"/>
<rect x="291" y="385" width="1" height="4" fill="#fff"/>
<rect x="291" y="383" width="1" height="1" fill="#fff"/>
<rect x="293" y="385" width="1" height="4" fill="#fff"/>
<rect x="295" y="385" width="1" height="4" fill="#fff"/>
<rect x="295" y="383" width="1" height="1" fill="#fff"/>
<rect x="304" y="385" width="1" height="4" fill="#fff"/>
<rect x="306" y="385" width="1" height="4" fill="#fff"/>
<rect x="306" y="383" width="1" height="1" fill="#fff"/>
<rect x="308" y="385" width="1" height="4" fill="#fff"/>
<rect x="310" y="385" width="1" height="4" fill="#fff"/>
<rect x="310" y="383" width="1" height="1" fill="#fff"/>
<rect x="319" y="385" width="1" height="4" fill="#fff"/>
<rect x="321" y="385" width="1" height="4" fill="#fff"/>
<rect x="321" y="383" width="1" height="1" fill="#fff"/>
<rect x="323" y="385" width="1" height="4" fill="#fff"/>
<rect x="325" y="385" width="1" height="4" fill="#fff"/>
<rect x="325" y="383" width="1" height="1" fill="#fff"/>
<rect x="327" y="385" width="1" height="4" fill="#fff"/>
<rect x="331" y="385" width="1" height="4" fill="#fff"/>
<rect x="333" y="385" width="1" height="4" fill="#fff"/>
<rect x="333" y="383" width="1" height="1" fill="#fff"/>
<rect x="345" y="385" width="1" height="4" fill="#fff"/>
<rect x="347" y="385" width="1" height="4" fill="#fff"/>
<rect x="347" y="383" width="1" height="1" fill="#fff"/>
<rect x="352" y="385" width="1" height="4" fill="#fff"/>
<rect x="354" y="385" width="1" height="4" fill="#fff"/>
<rect x="354" y="383" width="1" height="1" fill="#fff"/>
<rect x="356" y="385" width="1" height="4" fill="#fff"/>
<rect x="358" y="385" width="1" height="4" fill="#fff"/>
<rect x="358" y="383" width="1" height="1" fill="#fff"/>
<rect x="360" y="385" width="1" height="4" fill="#fff"/>
<rect x="369" y="385" width="1" height="4" fill="#fff"/>
<rect x="371" y="385" width="1" height="4" fill="#fff"/>
<rect x="371" y="383" width="1" height="1" fill="#fff"/>
<rect x="373" y="385" width="1" height="4" fill="#fff"/>
<rect x="375" y="385" width="1" height="4" fill="#fff"/>
<rect x="375" y="383" width="1" height="1" fill="#fff"/>
<rect x="377" y="385" width="1" height="4" fill="#fff"/>
<rect x="379" y="385" width="1" height="4" fill="#fff"/>
<rect x="379" y="383" width="1" height="1" fill="#fff"/>
<rect x="385" y="385" width="1" height="4" fill="#fff"/>
<rect x="387" y="385" width="1" height="4" fill="#fff"/>
<rect x="387" y="383" width="1" height="1" fill="#fff"/>
<rect x="389" y="385" width="1" height="4" fill="#fff"/>
<rect x="404" y="385" width="1" height="4" fill="#fff"/>
<rect x="406" y="385" width="1" height="4" fill="#fff"/>
<rect x="406" y="383" width="1" height="1" fill="#fff"/>
<rect x="417" y="385" width="1" height="4" fill="#fff"/>
<rect x="419" y="385" width="1" height="4" fill="#fff"/>
<rect x="419" y="383" width="1" height="1" fill="#fff"/>
<rect x="421" y="385" width="1" height="4" fill="#fff"/>
<rect x="423" y="385" width="1" height="4" fill="#fff"/>
<rect x="423" y="383" width="1" height="1" fill="#fff"/>
<rect x="425" y="385" width="1" height="4" fill="#fff"/>
<rect x="429" y="385" width="1" height="4" fill="#fff"/>
<rect x="337" y="389" width="7" height="4" fill="#fff"/>
<rect x="319" y="349" width="44" height="11" fill="#fff"/>
<text x="340.7" y="357.8" font-size="10" fill="#000" text-anchor="middle" filter="url(#ta)"  letter-spacing="0.6">BANK 0</text>
<rect x="319" y="376" width="44" height="11" fill="#fff"/>
<text x="340.7" y="384.8" font-size="10" fill="#000" text-anchor="middle" filter="url(#ta)"  letter-spacing="0.6">BANK 1</text>
<rect x="190" y="255" width="68" height="20" fill="#000"/>
<rect x="192" y="257" width="3" height="4" fill="#fff"/>
<rect x="192" y="270" width="3" height="3" fill="#fff"/>
<rect x="197" y="257" width="3" height="4" fill="#fff"/>
<rect x="197" y="270" width="3" height="3" fill="#fff"/>
<rect x="201" y="257" width="3" height="4" fill="#fff"/>
<rect x="201" y="270" width="3" height="3" fill="#fff"/>
<rect x="205" y="257" width="3" height="4" fill="#fff"/>
<rect x="205" y="270" width="3" height="3" fill="#fff"/>
<rect x="239" y="257" width="3" height="4" fill="#fff"/>
<rect x="239" y="270" width="3" height="3" fill="#fff"/>
<rect x="243" y="257" width="3" height="4" fill="#fff"/>
<rect x="243" y="270" width="3" height="3" fill="#fff"/>
<rect x="248" y="257" width="3" height="4" fill="#fff"/>
<rect x="248" y="270" width="3" height="3" fill="#fff"/>
<rect x="252" y="257" width="3" height="4" fill="#fff"/>
<rect x="252" y="270" width="3" height="3" fill="#fff"/>
<rect x="195" y="263" width="17" height="3" fill="#fff"/>
<rect x="237" y="263" width="15" height="3" fill="#fff"/>
<rect x="255" y="263" width="3" height="3" fill="#fff"/>
<rect x="212.5" y="259.5" width="24" height="11" rx="2" fill="#fff" stroke="#000" stroke-width="1"/>
<text x="223.9" y="268.7" font-size="10" fill="#000" text-anchor="middle" filter="url(#ta)"  letter-spacing="0.6">TAG</text>
<rect x="51" y="251" width="78" height="20" fill="#000"/>
<rect x="54" y="253" width="2" height="4" fill="#fff"/>
<rect x="54" y="265" width="2" height="4" fill="#fff"/>
<rect x="58" y="253" width="3" height="4" fill="#fff"/>
<rect x="58" y="265" width="3" height="4" fill="#fff"/>
<rect x="63" y="253" width="2" height="4" fill="#fff"/>
<rect x="63" y="265" width="2" height="4" fill="#fff"/>
<rect x="67" y="253" width="3" height="4" fill="#fff"/>
<rect x="67" y="265" width="3" height="4" fill="#fff"/>
<rect x="72" y="253" width="2" height="4" fill="#fff"/>
<rect x="72" y="265" width="2" height="4" fill="#fff"/>
<rect x="76" y="253" width="3" height="4" fill="#fff"/>
<rect x="76" y="265" width="3" height="4" fill="#fff"/>
<rect x="81" y="253" width="3" height="4" fill="#fff"/>
<rect x="81" y="265" width="3" height="4" fill="#fff"/>
<rect x="86" y="253" width="2" height="4" fill="#fff"/>
<rect x="86" y="265" width="2" height="4" fill="#fff"/>
<rect x="91" y="253" width="2" height="4" fill="#fff"/>
<rect x="91" y="265" width="2" height="4" fill="#fff"/>
<rect x="95" y="253" width="3" height="4" fill="#fff"/>
<rect x="95" y="265" width="3" height="4" fill="#fff"/>
<rect x="100" y="253" width="3" height="4" fill="#fff"/>
<rect x="100" y="265" width="3" height="4" fill="#fff"/>
<rect x="105" y="253" width="2" height="4" fill="#fff"/>
<rect x="105" y="265" width="2" height="4" fill="#fff"/>
<rect x="110" y="253" width="2" height="4" fill="#fff"/>
<rect x="110" y="265" width="2" height="4" fill="#fff"/>
<rect x="114" y="253" width="3" height="4" fill="#fff"/>
<rect x="114" y="265" width="3" height="4" fill="#fff"/>
<rect x="119" y="253" width="2" height="4" fill="#fff"/>
<rect x="119" y="265" width="2" height="4" fill="#fff"/>
<rect x="124" y="253" width="2" height="4" fill="#fff"/>
<rect x="124" y="265" width="2" height="4" fill="#fff"/>
<rect x="56" y="259" width="31" height="4" fill="#fff"/>
<rect x="92" y="259" width="32" height="4" fill="#fff"/>
<rect x="127" y="259" width="2" height="3" fill="#fff"/>
<rect x="51" y="272" width="78" height="20" fill="#000"/>
<rect x="54" y="274" width="2" height="4" fill="#fff"/>
<rect x="54" y="286" width="2" height="4" fill="#fff"/>
<rect x="58" y="274" width="3" height="4" fill="#fff"/>
<rect x="58" y="286" width="3" height="4" fill="#fff"/>
<rect x="63" y="274" width="2" height="4" fill="#fff"/>
<rect x="63" y="286" width="2" height="4" fill="#fff"/>
<rect x="67" y="274" width="3" height="4" fill="#fff"/>
<rect x="67" y="286" width="3" height="4" fill="#fff"/>
<rect x="72" y="274" width="2" height="4" fill="#fff"/>
<rect x="72" y="286" width="2" height="4" fill="#fff"/>
<rect x="76" y="274" width="3" height="4" fill="#fff"/>
<rect x="76" y="286" width="3" height="4" fill="#fff"/>
<rect x="81" y="274" width="3" height="4" fill="#fff"/>
<rect x="81" y="286" width="3" height="4" fill="#fff"/>
<rect x="86" y="274" width="2" height="4" fill="#fff"/>
<rect x="86" y="286" width="2" height="4" fill="#fff"/>
<rect x="91" y="274" width="2" height="4" fill="#fff"/>
<rect x="91" y="286" width="2" height="4" fill="#fff"/>
<rect x="95" y="274" width="3" height="4" fill="#fff"/>
<rect x="95" y="286" width="3" height="4" fill="#fff"/>
<rect x="100" y="274" width="3" height="4" fill="#fff"/>
<rect x="100" y="286" width="3" height="4" fill="#fff"/>
<rect x="105" y="274" width="2" height="4" fill="#fff"/>
<rect x="105" y="286" width="2" height="4" fill="#fff"/>
<rect x="110" y="274" width="2" height="4" fill="#fff"/>
<rect x="110" y="286" width="2" height="4" fill="#fff"/>
<rect x="114" y="274" width="3" height="4" fill="#fff"/>
<rect x="114" y="286" width="3" height="4" fill="#fff"/>
<rect x="119" y="274" width="2" height="4" fill="#fff"/>
<rect x="119" y="286" width="2" height="4" fill="#fff"/>
<rect x="124" y="274" width="2" height="4" fill="#fff"/>
<rect x="124" y="286" width="2" height="4" fill="#fff"/>
<rect x="56" y="280" width="31" height="4" fill="#fff"/>
<rect x="92" y="280" width="32" height="4" fill="#fff"/>
<rect x="127" y="280" width="2" height="3" fill="#fff"/>
<rect x="51" y="294" width="78" height="20" fill="#000"/>
<rect x="54" y="296" width="2" height="4" fill="#fff"/>
<rect x="54" y="308" width="2" height="4" fill="#fff"/>
<rect x="58" y="296" width="3" height="4" fill="#fff"/>
<rect x="58" y="308" width="3" height="4" fill="#fff"/>
<rect x="63" y="296" width="2" height="4" fill="#fff"/>
<rect x="63" y="308" width="2" height="4" fill="#fff"/>
<rect x="67" y="296" width="3" height="4" fill="#fff"/>
<rect x="67" y="308" width="3" height="4" fill="#fff"/>
<rect x="72" y="296" width="2" height="4" fill="#fff"/>
<rect x="72" y="308" width="2" height="4" fill="#fff"/>
<rect x="76" y="296" width="3" height="4" fill="#fff"/>
<rect x="76" y="308" width="3" height="4" fill="#fff"/>
<rect x="81" y="296" width="3" height="4" fill="#fff"/>
<rect x="81" y="308" width="3" height="4" fill="#fff"/>
<rect x="86" y="296" width="2" height="4" fill="#fff"/>
<rect x="86" y="308" width="2" height="4" fill="#fff"/>
<rect x="91" y="296" width="2" height="4" fill="#fff"/>
<rect x="91" y="308" width="2" height="4" fill="#fff"/>
<rect x="95" y="296" width="3" height="4" fill="#fff"/>
<rect x="95" y="308" width="3" height="4" fill="#fff"/>
<rect x="100" y="296" width="3" height="4" fill="#fff"/>
<rect x="100" y="308" width="3" height="4" fill="#fff"/>
<rect x="105" y="296" width="2" height="4" fill="#fff"/>
<rect x="105" y="308" width="2" height="4" fill="#fff"/>
<rect x="110" y="296" width="2" height="4" fill="#fff"/>
<rect x="110" y="308" width="2" height="4" fill="#fff"/>
<rect x="114" y="296" width="3" height="4" fill="#fff"/>
<rect x="114" y="308" width="3" height="4" fill="#fff"/>
<rect x="119" y="296" width="2" height="4" fill="#fff"/>
<rect x="119" y="308" width="2" height="4" fill="#fff"/>
<rect x="124" y="296" width="2" height="4" fill="#fff"/>
<rect x="124" y="308" width="2" height="4" fill="#fff"/>
<rect x="56" y="302" width="31" height="4" fill="#fff"/>
<rect x="92" y="302" width="32" height="4" fill="#fff"/>
<rect x="127" y="302" width="2" height="3" fill="#fff"/>
<rect x="51" y="316" width="78" height="20" fill="#000"/>
<rect x="54" y="318" width="2" height="4" fill="#fff"/>
<rect x="54" y="330" width="2" height="4" fill="#fff"/>
<rect x="58" y="318" width="3" height="4" fill="#fff"/>
<rect x="58" y="330" width="3" height="4" fill="#fff"/>
<rect x="63" y="318" width="2" height="4" fill="#fff"/>
<rect x="63" y="330" width="2" height="4" fill="#fff"/>
<rect x="67" y="318" width="3" height="4" fill="#fff"/>
<rect x="67" y="330" width="3" height="4" fill="#fff"/>
<rect x="72" y="318" width="2" height="4" fill="#fff"/>
<rect x="72" y="330" width="2" height="4" fill="#fff"/>
<rect x="76" y="318" width="3" height="4" fill="#fff"/>
<rect x="76" y="330" width="3" height="4" fill="#fff"/>
<rect x="81" y="318" width="3" height="4" fill="#fff"/>
<rect x="81" y="330" width="3" height="4" fill="#fff"/>
<rect x="86" y="318" width="2" height="4" fill="#fff"/>
<rect x="86" y="330" width="2" height="4" fill="#fff"/>
<rect x="91" y="318" width="2" height="4" fill="#fff"/>
<rect x="91" y="330" width="2" height="4" fill="#fff"/>
<rect x="95" y="318" width="3" height="4" fill="#fff"/>
<rect x="95" y="330" width="3" height="4" fill="#fff"/>
<rect x="100" y="318" width="3" height="4" fill="#fff"/>
<rect x="100" y="330" width="3" height="4" fill="#fff"/>
<rect x="105" y="318" width="2" height="4" fill="#fff"/>
<rect x="105" y="330" width="2" height="4" fill="#fff"/>
<rect x="110" y="318" width="2" height="4" fill="#fff"/>
<rect x="110" y="330" width="2" height="4" fill="#fff"/>
<rect x="114" y="318" width="3" height="4" fill="#fff"/>
<rect x="114" y="330" width="3" height="4" fill="#fff"/>
<rect x="119" y="318" width="2" height="4" fill="#fff"/>
<rect x="119" y="330" width="2" height="4" fill="#fff"/>
<rect x="124" y="318" width="2" height="4" fill="#fff"/>
<rect x="124" y="330" width="2" height="4" fill="#fff"/>
<rect x="56" y="324" width="31" height="4" fill="#fff"/>
<rect x="92" y="324" width="32" height="4" fill="#fff"/>
<rect x="127" y="324" width="2" height="3" fill="#fff"/>
<rect x="51" y="338" width="78" height="20" fill="#000"/>
<rect x="54" y="340" width="2" height="4" fill="#fff"/>
<rect x="54" y="352" width="2" height="4" fill="#fff"/>
<rect x="58" y="340" width="3" height="4" fill="#fff"/>
<rect x="58" y="352" width="3" height="4" fill="#fff"/>
<rect x="63" y="340" width="2" height="4" fill="#fff"/>
<rect x="63" y="352" width="2" height="4" fill="#fff"/>
<rect x="67" y="340" width="3" height="4" fill="#fff"/>
<rect x="67" y="352" width="3" height="4" fill="#fff"/>
<rect x="72" y="340" width="2" height="4" fill="#fff"/>
<rect x="72" y="352" width="2" height="4" fill="#fff"/>
<rect x="76" y="340" width="3" height="4" fill="#fff"/>
<rect x="76" y="352" width="3" height="4" fill="#fff"/>
<rect x="81" y="340" width="3" height="4" fill="#fff"/>
<rect x="81" y="352" width="3" height="4" fill="#fff"/>
<rect x="86" y="340" width="2" height="4" fill="#fff"/>
<rect x="86" y="352" width="2" height="4" fill="#fff"/>
<rect x="91" y="340" width="2" height="4" fill="#fff"/>
<rect x="91" y="352" width="2" height="4" fill="#fff"/>
<rect x="95" y="340" width="3" height="4" fill="#fff"/>
<rect x="95" y="352" width="3" height="4" fill="#fff"/>
<rect x="100" y="340" width="3" height="4" fill="#fff"/>
<rect x="100" y="352" width="3" height="4" fill="#fff"/>
<rect x="105" y="340" width="2" height="4" fill="#fff"/>
<rect x="105" y="352" width="2" height="4" fill="#fff"/>
<rect x="110" y="340" width="2" height="4" fill="#fff"/>
<rect x="110" y="352" width="2" height="4" fill="#fff"/>
<rect x="114" y="340" width="3" height="4" fill="#fff"/>
<rect x="114" y="352" width="3" height="4" fill="#fff"/>
<rect x="119" y="340" width="2" height="4" fill="#fff"/>
<rect x="119" y="352" width="2" height="4" fill="#fff"/>
<rect x="124" y="340" width="2" height="4" fill="#fff"/>
<rect x="124" y="352" width="2" height="4" fill="#fff"/>
<rect x="56" y="346" width="31" height="4" fill="#fff"/>
<rect x="92" y="346" width="32" height="4" fill="#fff"/>
<rect x="127" y="346" width="2" height="3" fill="#fff"/>
<rect x="51" y="359" width="78" height="20" fill="#000"/>
<rect x="54" y="361" width="2" height="4" fill="#fff"/>
<rect x="54" y="373" width="2" height="4" fill="#fff"/>
<rect x="58" y="361" width="3" height="4" fill="#fff"/>
<rect x="58" y="373" width="3" height="4" fill="#fff"/>
<rect x="63" y="361" width="2" height="4" fill="#fff"/>
<rect x="63" y="373" width="2" height="4" fill="#fff"/>
<rect x="67" y="361" width="3" height="4" fill="#fff"/>
<rect x="67" y="373" width="3" height="4" fill="#fff"/>
<rect x="72" y="361" width="2" height="4" fill="#fff"/>
<rect x="72" y="373" width="2" height="4" fill="#fff"/>
<rect x="76" y="361" width="3" height="4" fill="#fff"/>
<rect x="76" y="373" width="3" height="4" fill="#fff"/>
<rect x="81" y="361" width="3" height="4" fill="#fff"/>
<rect x="81" y="373" width="3" height="4" fill="#fff"/>
<rect x="86" y="361" width="2" height="4" fill="#fff"/>
<rect x="86" y="373" width="2" height="4" fill="#fff"/>
<rect x="91" y="361" width="2" height="4" fill="#fff"/>
<rect x="91" y="373" width="2" height="4" fill="#fff"/>
<rect x="95" y="361" width="3" height="4" fill="#fff"/>
<rect x="95" y="373" width="3" height="4" fill="#fff"/>
<rect x="100" y="361" width="3" height="4" fill="#fff"/>
<rect x="100" y="373" width="3" height="4" fill="#fff"/>
<rect x="105" y="361" width="2" height="4" fill="#fff"/>
<rect x="105" y="373" width="2" height="4" fill="#fff"/>
<rect x="110" y="361" width="2" height="4" fill="#fff"/>
<rect x="110" y="373" width="2" height="4" fill="#fff"/>
<rect x="114" y="361" width="3" height="4" fill="#fff"/>
<rect x="114" y="373" width="3" height="4" fill="#fff"/>
<rect x="119" y="361" width="2" height="4" fill="#fff"/>
<rect x="119" y="373" width="2" height="4" fill="#fff"/>
<rect x="124" y="361" width="2" height="4" fill="#fff"/>
<rect x="124" y="373" width="2" height="4" fill="#fff"/>
<rect x="56" y="367" width="31" height="4" fill="#fff"/>
<rect x="92" y="367" width="32" height="4" fill="#fff"/>
<rect x="127" y="367" width="2" height="3" fill="#fff"/>
<rect x="51" y="380" width="78" height="20" fill="#000"/>
<rect x="54" y="382" width="2" height="4" fill="#fff"/>
<rect x="54" y="394" width="2" height="4" fill="#fff"/>
<rect x="58" y="382" width="3" height="4" fill="#fff"/>
<rect x="58" y="394" width="3" height="4" fill="#fff"/>
<rect x="63" y="382" width="2" height="4" fill="#fff"/>
<rect x="63" y="394" width="2" height="4" fill="#fff"/>
<rect x="67" y="382" width="3" height="4" fill="#fff"/>
<rect x="67" y="394" width="3" height="4" fill="#fff"/>
<rect x="72" y="382" width="2" height="4" fill="#fff"/>
<rect x="72" y="394" width="2" height="4" fill="#fff"/>
<rect x="76" y="382" width="3" height="4" fill="#fff"/>
<rect x="76" y="394" width="3" height="4" fill="#fff"/>
<rect x="81" y="382" width="3" height="4" fill="#fff"/>
<rect x="81" y="394" width="3" height="4" fill="#fff"/>
<rect x="86" y="382" width="2" height="4" fill="#fff"/>
<rect x="86" y="394" width="2" height="4" fill="#fff"/>
<rect x="91" y="382" width="2" height="4" fill="#fff"/>
<rect x="91" y="394" width="2" height="4" fill="#fff"/>
<rect x="95" y="382" width="3" height="4" fill="#fff"/>
<rect x="95" y="394" width="3" height="4" fill="#fff"/>
<rect x="100" y="382" width="3" height="4" fill="#fff"/>
<rect x="100" y="394" width="3" height="4" fill="#fff"/>
<rect x="105" y="382" width="2" height="4" fill="#fff"/>
<rect x="105" y="394" width="2" height="4" fill="#fff"/>
<rect x="110" y="382" width="2" height="4" fill="#fff"/>
<rect x="110" y="394" width="2" height="4" fill="#fff"/>
<rect x="114" y="382" width="3" height="4" fill="#fff"/>
<rect x="114" y="394" width="3" height="4" fill="#fff"/>
<rect x="119" y="382" width="2" height="4" fill="#fff"/>
<rect x="119" y="394" width="2" height="4" fill="#fff"/>
<rect x="124" y="382" width="2" height="4" fill="#fff"/>
<rect x="124" y="394" width="2" height="4" fill="#fff"/>
<rect x="56" y="388" width="31" height="4" fill="#fff"/>
<rect x="92" y="388" width="32" height="4" fill="#fff"/>
<rect x="127" y="388" width="2" height="3" fill="#fff"/>
<rect x="51" y="402" width="78" height="20" fill="#000"/>
<rect x="54" y="404" width="2" height="4" fill="#fff"/>
<rect x="54" y="416" width="2" height="4" fill="#fff"/>
<rect x="58" y="404" width="3" height="4" fill="#fff"/>
<rect x="58" y="416" width="3" height="4" fill="#fff"/>
<rect x="63" y="404" width="2" height="4" fill="#fff"/>
<rect x="63" y="416" width="2" height="4" fill="#fff"/>
<rect x="67" y="404" width="3" height="4" fill="#fff"/>
<rect x="67" y="416" width="3" height="4" fill="#fff"/>
<rect x="72" y="404" width="2" height="4" fill="#fff"/>
<rect x="72" y="416" width="2" height="4" fill="#fff"/>
<rect x="76" y="404" width="3" height="4" fill="#fff"/>
<rect x="76" y="416" width="3" height="4" fill="#fff"/>
<rect x="81" y="404" width="3" height="4" fill="#fff"/>
<rect x="81" y="416" width="3" height="4" fill="#fff"/>
<rect x="86" y="404" width="2" height="4" fill="#fff"/>
<rect x="86" y="416" width="2" height="4" fill="#fff"/>
<rect x="91" y="404" width="2" height="4" fill="#fff"/>
<rect x="91" y="416" width="2" height="4" fill="#fff"/>
<rect x="95" y="404" width="3" height="4" fill="#fff"/>
<rect x="95" y="416" width="3" height="4" fill="#fff"/>
<rect x="100" y="404" width="3" height="4" fill="#fff"/>
<rect x="100" y="416" width="3" height="4" fill="#fff"/>
<rect x="105" y="404" width="2" height="4" fill="#fff"/>
<rect x="105" y="416" width="2" height="4" fill="#fff"/>
<rect x="110" y="404" width="2" height="4" fill="#fff"/>
<rect x="110" y="416" width="2" height="4" fill="#fff"/>
<rect x="114" y="404" width="3" height="4" fill="#fff"/>
<rect x="114" y="416" width="3" height="4" fill="#fff"/>
<rect x="119" y="404" width="2" height="4" fill="#fff"/>
<rect x="119" y="416" width="2" height="4" fill="#fff"/>
<rect x="124" y="404" width="2" height="4" fill="#fff"/>
<rect x="124" y="416" width="2" height="4" fill="#fff"/>
<rect x="56" y="410" width="31" height="4" fill="#fff"/>
<rect x="92" y="410" width="32" height="4" fill="#fff"/>
<rect x="127" y="410" width="2" height="3" fill="#fff"/>
<rect x="83" y="306" width="14" height="61" fill="#000"/>
<rect x="84" y="307" width="12" height="59" fill="#fff"/>
<text x="90" y="316.3" font-size="10" fill="#000" text-anchor="middle" filter="url(#ta)" >B</text>
<text x="90" y="327.90000000000003" font-size="10" fill="#000" text-anchor="middle" filter="url(#ta)" >A</text>
<text x="90" y="339.5" font-size="10" fill="#000" text-anchor="middle" filter="url(#ta)" >N</text>
<text x="90" y="351.1" font-size="10" fill="#000" text-anchor="middle" filter="url(#ta)" >K</text>
<text x="90" y="362.7" font-size="10" fill="#000" text-anchor="middle" filter="url(#ta)" >0</text>
<polyline points="54,248 47.5,255 47.5,418 53,425" fill="none" stroke="#000" stroke-width="1" stroke-linejoin="miter"/>
<rect x="4" y="332" width="39" height="13" rx="2.5" fill="#fff" stroke="#000" stroke-width="2"/>
<text x="23.6" y="341.6" font-size="10" fill="#000" text-anchor="middle" filter="url(#ta)" letter-spacing="0">CACHE</text>
<polyline points="44,338 47.5,333" fill="none" stroke="#000" stroke-width="1" stroke-linejoin="miter"/>
<polyline points="44,338 47.5,343" fill="none" stroke="#000" stroke-width="1" stroke-linejoin="miter"/>
<rect x="43" y="229" width="222" height="16" fill="#000"/>
<rect x="52" y="235" width="205" height="4" fill="#fff"/>
<rect x="143" y="232" width="23" height="11" fill="#fff"/>
<text x="152.5" y="239.8" font-size="10" fill="#000" text-anchor="middle" filter="url(#ta)"  letter-spacing="0.6">SL1</text>
<rect x="26" y="223" width="25" height="12" rx="2.5" fill="#fff" stroke="#000" stroke-width="2"/>
<text x="39.05" y="232.7" font-size="10" fill="#000" text-anchor="middle" filter="url(#ta)"  letter-spacing="0.6">RN2</text>
<rect x="77" y="108" width="109" height="105" fill="#000"/>
<rect x="84" y="113" width="1" height="2" fill="#fff"/>
<rect x="89" y="113" width="2" height="1" fill="#fff"/>
<rect x="90" y="114" width="1" height="1" fill="#fff"/>
<rect x="93" y="113" width="2" height="1" fill="#fff"/>
<rect x="93" y="114" width="1" height="1" fill="#fff"/>
<rect x="98" y="113" width="2" height="2" fill="#fff"/>
<rect x="103" y="113" width="1" height="2" fill="#fff"/>
<rect x="108" y="113" width="2" height="1" fill="#fff"/>
<rect x="109" y="114" width="1" height="1" fill="#fff"/>
<rect x="112" y="113" width="2" height="1" fill="#fff"/>
<rect x="112" y="114" width="1" height="1" fill="#fff"/>
<rect x="117" y="113" width="2" height="2" fill="#fff"/>
<rect x="122" y="113" width="1" height="2" fill="#fff"/>
<rect x="126" y="113" width="2" height="1" fill="#fff"/>
<rect x="127" y="114" width="1" height="1" fill="#fff"/>
<rect x="131" y="113" width="2" height="1" fill="#fff"/>
<rect x="131" y="114" width="1" height="1" fill="#fff"/>
<rect x="136" y="113" width="2" height="2" fill="#fff"/>
<rect x="140" y="113" width="1" height="2" fill="#fff"/>
<rect x="145" y="113" width="2" height="1" fill="#fff"/>
<rect x="146" y="114" width="1" height="1" fill="#fff"/>
<rect x="150" y="113" width="2" height="1" fill="#fff"/>
<rect x="150" y="114" width="1" height="1" fill="#fff"/>
<rect x="154" y="113" width="2" height="2" fill="#fff"/>
<rect x="159" y="113" width="1" height="2" fill="#fff"/>
<rect x="164" y="113" width="2" height="1" fill="#fff"/>
<rect x="165" y="114" width="1" height="1" fill="#fff"/>
<rect x="169" y="113" width="2" height="1" fill="#fff"/>
<rect x="169" y="114" width="1" height="1" fill="#fff"/>
<rect x="173" y="113" width="2" height="2" fill="#fff"/>
<rect x="178" y="113" width="1" height="2" fill="#fff"/>
<rect x="84" y="118" width="2" height="2" fill="#fff"/>
<rect x="89" y="118" width="2" height="2" fill="#fff"/>
<rect x="93" y="118" width="2" height="2" fill="#fff"/>
<rect x="98" y="118" width="2" height="2" fill="#fff"/>
<rect x="103" y="118" width="2" height="2" fill="#fff"/>
<rect x="108" y="118" width="2" height="2" fill="#fff"/>
<rect x="112" y="118" width="2" height="2" fill="#fff"/>
<rect x="117" y="118" width="2" height="2" fill="#fff"/>
<rect x="122" y="118" width="2" height="2" fill="#fff"/>
<rect x="126" y="118" width="2" height="2" fill="#fff"/>
<rect x="131" y="118" width="2" height="2" fill="#fff"/>
<rect x="136" y="118" width="2" height="2" fill="#fff"/>
<rect x="140" y="118" width="2" height="2" fill="#fff"/>
<rect x="145" y="118" width="2" height="2" fill="#fff"/>
<rect x="150" y="118" width="2" height="2" fill="#fff"/>
<rect x="154" y="118" width="2" height="2" fill="#fff"/>
<rect x="159" y="118" width="2" height="2" fill="#fff"/>
<rect x="164" y="118" width="2" height="2" fill="#fff"/>
<rect x="169" y="118" width="2" height="2" fill="#fff"/>
<rect x="173" y="118" width="2" height="2" fill="#fff"/>
<rect x="178" y="118" width="2" height="2" fill="#fff"/>
<rect x="84" y="122" width="2" height="1" fill="#fff"/>
<rect x="84" y="123" width="1" height="1" fill="#fff"/>
<rect x="89" y="122" width="2" height="2" fill="#fff"/>
<rect x="93" y="122" width="1" height="2" fill="#fff"/>
<rect x="98" y="122" width="2" height="1" fill="#fff"/>
<rect x="99" y="123" width="1" height="1" fill="#fff"/>
<rect x="103" y="122" width="2" height="1" fill="#fff"/>
<rect x="103" y="123" width="1" height="1" fill="#fff"/>
<rect x="108" y="122" width="2" height="2" fill="#fff"/>
<rect x="112" y="122" width="1" height="2" fill="#fff"/>
<rect x="117" y="122" width="2" height="1" fill="#fff"/>
<rect x="118" y="123" width="1" height="1" fill="#fff"/>
<rect x="122" y="122" width="2" height="1" fill="#fff"/>
<rect x="122" y="123" width="1" height="1" fill="#fff"/>
<rect x="126" y="122" width="2" height="2" fill="#fff"/>
<rect x="131" y="122" width="1" height="2" fill="#fff"/>
<rect x="136" y="122" width="2" height="1" fill="#fff"/>
<rect x="137" y="123" width="1" height="1" fill="#fff"/>
<rect x="140" y="122" width="2" height="1" fill="#fff"/>
<rect x="140" y="123" width="1" height="1" fill="#fff"/>
<rect x="145" y="122" width="2" height="2" fill="#fff"/>
<rect x="150" y="122" width="1" height="2" fill="#fff"/>
<rect x="154" y="122" width="2" height="1" fill="#fff"/>
<rect x="155" y="123" width="1" height="1" fill="#fff"/>
<rect x="159" y="122" width="2" height="1" fill="#fff"/>
<rect x="159" y="123" width="1" height="1" fill="#fff"/>
<rect x="164" y="122" width="2" height="2" fill="#fff"/>
<rect x="169" y="122" width="1" height="2" fill="#fff"/>
<rect x="173" y="122" width="2" height="1" fill="#fff"/>
<rect x="174" y="123" width="1" height="1" fill="#fff"/>
<rect x="178" y="122" width="2" height="1" fill="#fff"/>
<rect x="178" y="123" width="1" height="1" fill="#fff"/>
<rect x="84" y="128" width="2" height="1" fill="#fff"/>
<rect x="89" y="128" width="2" height="1" fill="#fff"/>
<rect x="93" y="128" width="2" height="1" fill="#fff"/>
<rect x="98" y="128" width="2" height="1" fill="#fff"/>
<rect x="103" y="128" width="2" height="1" fill="#fff"/>
<rect x="108" y="128" width="2" height="1" fill="#fff"/>
<rect x="112" y="128" width="2" height="1" fill="#fff"/>
<rect x="117" y="128" width="2" height="1" fill="#fff"/>
<rect x="122" y="128" width="2" height="1" fill="#fff"/>
<rect x="126" y="128" width="2" height="1" fill="#fff"/>
<rect x="131" y="128" width="2" height="1" fill="#fff"/>
<rect x="136" y="128" width="2" height="1" fill="#fff"/>
<rect x="140" y="128" width="2" height="1" fill="#fff"/>
<rect x="145" y="128" width="2" height="1" fill="#fff"/>
<rect x="150" y="128" width="2" height="1" fill="#fff"/>
<rect x="154" y="128" width="2" height="1" fill="#fff"/>
<rect x="159" y="128" width="2" height="1" fill="#fff"/>
<rect x="164" y="128" width="2" height="1" fill="#fff"/>
<rect x="169" y="128" width="2" height="1" fill="#fff"/>
<rect x="173" y="128" width="2" height="1" fill="#fff"/>
<rect x="178" y="128" width="2" height="1" fill="#fff"/>
<rect x="84" y="132" width="1" height="2" fill="#fff"/>
<rect x="89" y="132" width="2" height="1" fill="#fff"/>
<rect x="90" y="133" width="1" height="1" fill="#fff"/>
<rect x="93" y="132" width="2" height="1" fill="#fff"/>
<rect x="93" y="133" width="1" height="1" fill="#fff"/>
<rect x="98" y="132" width="2" height="2" fill="#fff"/>
<rect x="164" y="132" width="2" height="1" fill="#fff"/>
<rect x="165" y="133" width="1" height="1" fill="#fff"/>
<rect x="169" y="132" width="2" height="1" fill="#fff"/>
<rect x="169" y="133" width="1" height="1" fill="#fff"/>
<rect x="173" y="132" width="2" height="2" fill="#fff"/>
<rect x="178" y="132" width="1" height="2" fill="#fff"/>
<rect x="84" y="136" width="2" height="2" fill="#fff"/>
<rect x="89" y="136" width="2" height="2" fill="#fff"/>
<rect x="93" y="136" width="2" height="2" fill="#fff"/>
<rect x="98" y="136" width="2" height="2" fill="#fff"/>
<rect x="164" y="136" width="2" height="2" fill="#fff"/>
<rect x="169" y="136" width="2" height="2" fill="#fff"/>
<rect x="173" y="136" width="2" height="2" fill="#fff"/>
<rect x="178" y="136" width="2" height="2" fill="#fff"/>
<rect x="84" y="141" width="2" height="1" fill="#fff"/>
<rect x="84" y="142" width="1" height="1" fill="#fff"/>
<rect x="89" y="141" width="2" height="2" fill="#fff"/>
<rect x="93" y="141" width="1" height="2" fill="#fff"/>
<rect x="98" y="141" width="2" height="1" fill="#fff"/>
<rect x="99" y="142" width="1" height="1" fill="#fff"/>
<rect x="164" y="141" width="2" height="2" fill="#fff"/>
<rect x="169" y="141" width="1" height="2" fill="#fff"/>
<rect x="173" y="141" width="2" height="1" fill="#fff"/>
<rect x="174" y="142" width="1" height="1" fill="#fff"/>
<rect x="178" y="141" width="2" height="1" fill="#fff"/>
<rect x="178" y="142" width="1" height="1" fill="#fff"/>
<rect x="84" y="147" width="2" height="1" fill="#fff"/>
<rect x="89" y="147" width="2" height="1" fill="#fff"/>
<rect x="93" y="147" width="2" height="1" fill="#fff"/>
<rect x="98" y="147" width="2" height="1" fill="#fff"/>
<rect x="164" y="147" width="2" height="1" fill="#fff"/>
<rect x="169" y="147" width="2" height="1" fill="#fff"/>
<rect x="173" y="147" width="2" height="1" fill="#fff"/>
<rect x="178" y="147" width="2" height="1" fill="#fff"/>
<rect x="84" y="151" width="1" height="2" fill="#fff"/>
<rect x="89" y="151" width="2" height="1" fill="#fff"/>
<rect x="90" y="152" width="1" height="1" fill="#fff"/>
<rect x="93" y="151" width="2" height="1" fill="#fff"/>
<rect x="93" y="152" width="1" height="1" fill="#fff"/>
<rect x="98" y="151" width="2" height="2" fill="#fff"/>
<rect x="164" y="151" width="2" height="1" fill="#fff"/>
<rect x="165" y="152" width="1" height="1" fill="#fff"/>
<rect x="169" y="151" width="2" height="1" fill="#fff"/>
<rect x="169" y="152" width="1" height="1" fill="#fff"/>
<rect x="173" y="151" width="2" height="2" fill="#fff"/>
<rect x="178" y="151" width="1" height="2" fill="#fff"/>
<rect x="84" y="155" width="2" height="2" fill="#fff"/>
<rect x="89" y="155" width="2" height="2" fill="#fff"/>
<rect x="93" y="155" width="2" height="2" fill="#fff"/>
<rect x="98" y="155" width="2" height="2" fill="#fff"/>
<rect x="164" y="155" width="2" height="2" fill="#fff"/>
<rect x="169" y="155" width="2" height="2" fill="#fff"/>
<rect x="173" y="155" width="2" height="2" fill="#fff"/>
<rect x="178" y="155" width="2" height="2" fill="#fff"/>
<rect x="84" y="160" width="2" height="1" fill="#fff"/>
<rect x="84" y="161" width="1" height="1" fill="#fff"/>
<rect x="89" y="160" width="2" height="2" fill="#fff"/>
<rect x="93" y="160" width="1" height="2" fill="#fff"/>
<rect x="98" y="160" width="2" height="1" fill="#fff"/>
<rect x="99" y="161" width="1" height="1" fill="#fff"/>
<rect x="164" y="160" width="2" height="2" fill="#fff"/>
<rect x="169" y="160" width="1" height="2" fill="#fff"/>
<rect x="173" y="160" width="2" height="1" fill="#fff"/>
<rect x="174" y="161" width="1" height="1" fill="#fff"/>
<rect x="178" y="160" width="2" height="1" fill="#fff"/>
<rect x="178" y="161" width="1" height="1" fill="#fff"/>
<rect x="84" y="166" width="2" height="1" fill="#fff"/>
<rect x="89" y="166" width="2" height="1" fill="#fff"/>
<rect x="93" y="166" width="2" height="1" fill="#fff"/>
<rect x="98" y="166" width="2" height="1" fill="#fff"/>
<rect x="164" y="166" width="2" height="1" fill="#fff"/>
<rect x="169" y="166" width="2" height="1" fill="#fff"/>
<rect x="173" y="166" width="2" height="1" fill="#fff"/>
<rect x="178" y="166" width="2" height="1" fill="#fff"/>
<rect x="84" y="169" width="1" height="2" fill="#fff"/>
<rect x="89" y="169" width="2" height="1" fill="#fff"/>
<rect x="90" y="170" width="1" height="1" fill="#fff"/>
<rect x="93" y="169" width="2" height="1" fill="#fff"/>
<rect x="93" y="170" width="1" height="1" fill="#fff"/>
<rect x="98" y="169" width="2" height="2" fill="#fff"/>
<rect x="164" y="169" width="2" height="1" fill="#fff"/>
<rect x="165" y="170" width="1" height="1" fill="#fff"/>
<rect x="169" y="169" width="2" height="1" fill="#fff"/>
<rect x="169" y="170" width="1" height="1" fill="#fff"/>
<rect x="173" y="169" width="2" height="2" fill="#fff"/>
<rect x="178" y="169" width="1" height="2" fill="#fff"/>
<rect x="84" y="174" width="2" height="2" fill="#fff"/>
<rect x="89" y="174" width="2" height="2" fill="#fff"/>
<rect x="93" y="174" width="2" height="2" fill="#fff"/>
<rect x="98" y="174" width="2" height="2" fill="#fff"/>
<rect x="164" y="174" width="2" height="2" fill="#fff"/>
<rect x="169" y="174" width="2" height="2" fill="#fff"/>
<rect x="173" y="174" width="2" height="2" fill="#fff"/>
<rect x="178" y="174" width="2" height="2" fill="#fff"/>
<rect x="84" y="179" width="2" height="1" fill="#fff"/>
<rect x="84" y="180" width="1" height="1" fill="#fff"/>
<rect x="89" y="179" width="2" height="2" fill="#fff"/>
<rect x="93" y="179" width="1" height="2" fill="#fff"/>
<rect x="98" y="179" width="2" height="1" fill="#fff"/>
<rect x="99" y="180" width="1" height="1" fill="#fff"/>
<rect x="164" y="179" width="2" height="2" fill="#fff"/>
<rect x="169" y="179" width="1" height="2" fill="#fff"/>
<rect x="173" y="179" width="2" height="1" fill="#fff"/>
<rect x="174" y="180" width="1" height="1" fill="#fff"/>
<rect x="178" y="179" width="2" height="1" fill="#fff"/>
<rect x="178" y="180" width="1" height="1" fill="#fff"/>
<rect x="84" y="185" width="2" height="1" fill="#fff"/>
<rect x="89" y="185" width="2" height="1" fill="#fff"/>
<rect x="93" y="185" width="2" height="1" fill="#fff"/>
<rect x="98" y="185" width="2" height="1" fill="#fff"/>
<rect x="164" y="185" width="2" height="1" fill="#fff"/>
<rect x="169" y="185" width="2" height="1" fill="#fff"/>
<rect x="173" y="185" width="2" height="1" fill="#fff"/>
<rect x="178" y="185" width="2" height="1" fill="#fff"/>
<rect x="84" y="188" width="1" height="2" fill="#fff"/>
<rect x="89" y="188" width="2" height="1" fill="#fff"/>
<rect x="90" y="189" width="1" height="1" fill="#fff"/>
<rect x="93" y="188" width="2" height="1" fill="#fff"/>
<rect x="93" y="189" width="1" height="1" fill="#fff"/>
<rect x="98" y="188" width="2" height="2" fill="#fff"/>
<rect x="159" y="188" width="1" height="2" fill="#fff"/>
<rect x="164" y="188" width="2" height="1" fill="#fff"/>
<rect x="165" y="189" width="1" height="1" fill="#fff"/>
<rect x="169" y="188" width="2" height="1" fill="#fff"/>
<rect x="169" y="189" width="1" height="1" fill="#fff"/>
<rect x="173" y="188" width="2" height="2" fill="#fff"/>
<rect x="178" y="188" width="1" height="2" fill="#fff"/>
<rect x="84" y="193" width="2" height="2" fill="#fff"/>
<rect x="89" y="193" width="2" height="2" fill="#fff"/>
<rect x="93" y="193" width="2" height="2" fill="#fff"/>
<rect x="98" y="193" width="2" height="2" fill="#fff"/>
<rect x="103" y="193" width="2" height="2" fill="#fff"/>
<rect x="108" y="193" width="2" height="2" fill="#fff"/>
<rect x="112" y="193" width="2" height="2" fill="#fff"/>
<rect x="117" y="193" width="2" height="2" fill="#fff"/>
<rect x="122" y="193" width="2" height="2" fill="#fff"/>
<rect x="126" y="193" width="2" height="2" fill="#fff"/>
<rect x="131" y="193" width="2" height="2" fill="#fff"/>
<rect x="136" y="193" width="2" height="2" fill="#fff"/>
<rect x="140" y="193" width="2" height="2" fill="#fff"/>
<rect x="145" y="193" width="2" height="2" fill="#fff"/>
<rect x="150" y="193" width="2" height="2" fill="#fff"/>
<rect x="154" y="193" width="2" height="2" fill="#fff"/>
<rect x="159" y="193" width="2" height="2" fill="#fff"/>
<rect x="164" y="193" width="2" height="2" fill="#fff"/>
<rect x="169" y="193" width="2" height="2" fill="#fff"/>
<rect x="173" y="193" width="2" height="2" fill="#fff"/>
<rect x="178" y="193" width="2" height="2" fill="#fff"/>
<rect x="84" y="198" width="2" height="1" fill="#fff"/>
<rect x="84" y="199" width="1" height="1" fill="#fff"/>
<rect x="89" y="198" width="2" height="2" fill="#fff"/>
<rect x="93" y="198" width="1" height="2" fill="#fff"/>
<rect x="98" y="198" width="2" height="1" fill="#fff"/>
<rect x="99" y="199" width="1" height="1" fill="#fff"/>
<rect x="103" y="198" width="2" height="1" fill="#fff"/>
<rect x="103" y="199" width="1" height="1" fill="#fff"/>
<rect x="108" y="198" width="2" height="2" fill="#fff"/>
<rect x="112" y="198" width="1" height="2" fill="#fff"/>
<rect x="117" y="198" width="2" height="1" fill="#fff"/>
<rect x="118" y="199" width="1" height="1" fill="#fff"/>
<rect x="122" y="198" width="2" height="1" fill="#fff"/>
<rect x="122" y="199" width="1" height="1" fill="#fff"/>
<rect x="126" y="198" width="2" height="2" fill="#fff"/>
<rect x="131" y="198" width="1" height="2" fill="#fff"/>
<rect x="136" y="198" width="2" height="1" fill="#fff"/>
<rect x="137" y="199" width="1" height="1" fill="#fff"/>
<rect x="140" y="198" width="2" height="1" fill="#fff"/>
<rect x="140" y="199" width="1" height="1" fill="#fff"/>
<rect x="145" y="198" width="2" height="2" fill="#fff"/>
<rect x="150" y="198" width="1" height="2" fill="#fff"/>
<rect x="154" y="198" width="2" height="1" fill="#fff"/>
<rect x="155" y="199" width="1" height="1" fill="#fff"/>
<rect x="159" y="198" width="2" height="1" fill="#fff"/>
<rect x="159" y="199" width="1" height="1" fill="#fff"/>
<rect x="164" y="198" width="2" height="2" fill="#fff"/>
<rect x="169" y="198" width="1" height="2" fill="#fff"/>
<rect x="173" y="198" width="2" height="1" fill="#fff"/>
<rect x="174" y="199" width="1" height="1" fill="#fff"/>
<rect x="178" y="198" width="2" height="1" fill="#fff"/>
<rect x="178" y="199" width="1" height="1" fill="#fff"/>
<rect x="84" y="203" width="2" height="1" fill="#fff"/>
<rect x="89" y="203" width="2" height="1" fill="#fff"/>
<rect x="93" y="203" width="2" height="1" fill="#fff"/>
<rect x="98" y="203" width="2" height="1" fill="#fff"/>
<rect x="103" y="203" width="2" height="1" fill="#fff"/>
<rect x="108" y="203" width="2" height="1" fill="#fff"/>
<rect x="112" y="203" width="2" height="1" fill="#fff"/>
<rect x="117" y="203" width="2" height="1" fill="#fff"/>
<rect x="122" y="203" width="2" height="1" fill="#fff"/>
<rect x="126" y="203" width="2" height="1" fill="#fff"/>
<rect x="131" y="203" width="2" height="1" fill="#fff"/>
<rect x="136" y="203" width="2" height="1" fill="#fff"/>
<rect x="140" y="203" width="2" height="1" fill="#fff"/>
<rect x="145" y="203" width="2" height="1" fill="#fff"/>
<rect x="150" y="203" width="2" height="1" fill="#fff"/>
<rect x="154" y="203" width="2" height="1" fill="#fff"/>
<rect x="159" y="203" width="2" height="1" fill="#fff"/>
<rect x="164" y="203" width="2" height="1" fill="#fff"/>
<rect x="169" y="203" width="2" height="1" fill="#fff"/>
<rect x="173" y="203" width="2" height="1" fill="#fff"/>
<rect x="178" y="203" width="2" height="1" fill="#fff"/>
<rect x="84" y="207" width="1" height="2" fill="#fff"/>
<rect x="89" y="207" width="2" height="1" fill="#fff"/>
<rect x="90" y="208" width="1" height="1" fill="#fff"/>
<rect x="93" y="207" width="2" height="1" fill="#fff"/>
<rect x="93" y="208" width="1" height="1" fill="#fff"/>
<rect x="98" y="207" width="2" height="2" fill="#fff"/>
<rect x="103" y="207" width="1" height="2" fill="#fff"/>
<rect x="108" y="207" width="2" height="1" fill="#fff"/>
<rect x="109" y="208" width="1" height="1" fill="#fff"/>
<rect x="112" y="207" width="2" height="1" fill="#fff"/>
<rect x="112" y="208" width="1" height="1" fill="#fff"/>
<rect x="117" y="207" width="2" height="2" fill="#fff"/>
<rect x="122" y="207" width="1" height="2" fill="#fff"/>
<rect x="126" y="207" width="2" height="1" fill="#fff"/>
<rect x="127" y="208" width="1" height="1" fill="#fff"/>
<rect x="131" y="207" width="2" height="1" fill="#fff"/>
<rect x="131" y="208" width="1" height="1" fill="#fff"/>
<rect x="136" y="207" width="2" height="2" fill="#fff"/>
<rect x="140" y="207" width="1" height="2" fill="#fff"/>
<rect x="145" y="207" width="2" height="1" fill="#fff"/>
<rect x="146" y="208" width="1" height="1" fill="#fff"/>
<rect x="150" y="207" width="2" height="1" fill="#fff"/>
<rect x="150" y="208" width="1" height="1" fill="#fff"/>
<rect x="154" y="207" width="2" height="2" fill="#fff"/>
<rect x="159" y="207" width="1" height="2" fill="#fff"/>
<rect x="164" y="207" width="2" height="1" fill="#fff"/>
<rect x="165" y="208" width="1" height="1" fill="#fff"/>
<rect x="169" y="207" width="2" height="1" fill="#fff"/>
<rect x="169" y="208" width="1" height="1" fill="#fff"/>
<rect x="173" y="207" width="2" height="2" fill="#fff"/>
<rect x="178" y="207" width="1" height="2" fill="#fff"/>
<rect x="104" y="132" width="53" height="55" fill="#fff"/>
<rect x="117" y="152" width="27" height="15" rx="2.5" fill="#fff" stroke="#000" stroke-width="2"/>
<text x="128.9" y="162.8" font-size="10" fill="#000" text-anchor="middle" filter="url(#ta)"  letter-spacing="0.6">CPU</text>
<rect x="77" y="88" width="105" height="20" fill="#000"/>
<rect x="77" y="89" width="104" height="1" fill="#fff"/>
<rect x="180" y="89" width="1" height="19" fill="#fff"/>
<rect x="77" y="105" width="104" height="1" fill="#fff"/>
<rect x="77" y="107" width="104" height="1" fill="#fff"/>
<text x="94.5" y="100.7" font-size="13" fill="#fff" text-anchor="middle" filter="url(#ta)" >AMP</text>
<rect x="113" y="93" width="25" height="4" fill="#fff"/>
<rect x="113" y="98" width="25" height="4" fill="#fff"/>
<rect x="181" y="96" width="12" height="103" fill="#000"/>
<rect x="186" y="97" width="6" height="101" fill="#fff"/>
<path d="M181,199H193L187,205H181Z" fill="#000"/>
<rect x="73.5" y="102.5" width="3" height="18" fill="#fff" stroke="#000" stroke-width="1"/>
<rect x="87" y="67" width="85" height="1" fill="#000"/>
<rect x="87" y="67" width="6" height="9" fill="#000"/>
<rect x="166" y="67" width="6" height="9" fill="#000"/>
<rect x="88" y="69" width="2" height="2" fill="#fff"/>
<rect x="90" y="69" width="1" height="2" fill="#fff"/>
<rect x="88" y="74" width="2" height="1" fill="#fff"/>
<rect x="167" y="69" width="2" height="2" fill="#fff"/>
<rect x="169" y="69" width="2" height="2" fill="#fff"/>
<rect x="92" y="67" width="1" height="17" fill="#000"/>
<rect x="167" y="75" width="1" height="9" fill="#000"/>
<rect x="92" y="83" width="76" height="1" fill="#000"/>
<rect x="95" y="75" width="70" height="8" fill="#000"/>
<rect x="95" y="79" width="70" height="1" fill="#fff"/>
<rect x="99" y="75" width="1" height="8" fill="#fff"/>
<rect x="104" y="75" width="1" height="8" fill="#fff"/>
<rect x="108" y="75" width="1" height="8" fill="#fff"/>
<rect x="113" y="75" width="1" height="8" fill="#fff"/>
<rect x="118" y="75" width="1" height="8" fill="#fff"/>
<rect x="123" y="75" width="1" height="8" fill="#fff"/>
<rect x="128" y="75" width="1" height="8" fill="#fff"/>
<rect x="132" y="75" width="1" height="8" fill="#fff"/>
<rect x="137" y="75" width="1" height="8" fill="#fff"/>
<rect x="142" y="75" width="1" height="8" fill="#fff"/>
<rect x="146" y="75" width="1" height="8" fill="#fff"/>
<rect x="151" y="75" width="1" height="8" fill="#fff"/>
<rect x="156" y="75" width="1" height="8" fill="#fff"/>
<rect x="161" y="75" width="1" height="8" fill="#fff"/>
<rect x="150" y="84" width="2" height="15" fill="#000"/>
<rect x="138" y="97" width="25" height="14" fill="#000"/>
<rect x="139" y="98" width="23" height="12" fill="#fff"/>
<text x="150.60000000000002" y="107.8" font-size="10" fill="#000" text-anchor="middle" filter="url(#ta)"  letter-spacing="0.6">VRM</text>
<rect x="207" y="26" width="70" height="35" fill="#000"/>
<rect x="226" y="38" width="32" height="11" fill="#fff"/>
<text x="241.5" y="48" font-size="10" fill="#000" text-anchor="middle" filter="url(#ta)"  letter-spacing="0.6">BIOS</text>
<rect x="206.5" y="67.5" width="53" height="15" fill="#fff" stroke="#000" stroke-width="1"/>
<rect x="206" y="67" width="5" height="5" fill="#000"/>
<rect x="208" y="69" width="2" height="2" fill="#fff"/>
<rect x="210.5" y="70.5" width="4" height="8" fill="#fff" stroke="#000" stroke-width="1"/>
<rect x="216" y="70" width="5" height="9" fill="#000"/>
<rect x="223" y="70" width="10" height="9" fill="#000"/>
<rect x="234" y="70" width="5" height="9" fill="#000"/>
<rect x="240" y="70" width="5" height="9" fill="#000"/>
<rect x="247" y="70" width="4" height="9" fill="#000"/>
<rect x="253" y="70" width="5" height="9" fill="#000"/>
<rect x="221" y="97" width="25" height="12" rx="2.5" fill="#fff" stroke="#000" stroke-width="2"/>
<text x="232.9" y="106.2" font-size="10" fill="#000" text-anchor="middle" filter="url(#ta)"  letter-spacing="0.6">SW1</text>
<polyline points="234,83 232,91 232,96" fill="none" stroke="#000" stroke-width="2" stroke-linejoin="miter"/>
<rect x="271" y="65" width="6" height="11" fill="#000"/>
<rect x="278" y="65" width="5" height="11" fill="#000"/>
<rect x="272" y="66" width="4" height="2" fill="#fff"/>
<rect x="279" y="66" width="3" height="2" fill="#fff"/>
<rect x="272" y="70" width="4" height="1" fill="#fff"/>
<rect x="279" y="70" width="3" height="1" fill="#fff"/>
<rect x="279" y="82" width="25" height="13" rx="2.5" fill="#fff" stroke="#000" stroke-width="2"/>
<text x="292.7" y="91.5" font-size="10" fill="#000" text-anchor="middle" filter="url(#ta)"  letter-spacing="0.6">JP3</text>
<polyline points="274,76 280,82" fill="none" stroke="#000" stroke-width="2" stroke-linejoin="miter"/>
<rect x="283" y="70" width="10" height="1" fill="#000"/>
<rect x="293" y="65" width="21" height="12" fill="#fff"/>
<rect x="293" y="77" width="22" height="1" fill="#000"/>
<rect x="314" y="65" width="1" height="13" fill="#000"/>
<text x="305.8" y="75" font-size="10" fill="#000" text-anchor="middle" filter="url(#ta)"  letter-spacing="0.6">W6</text>
<rect x="294" y="66" width="2" height="2" fill="#fff"/>
<rect x="91" y="22" width="11" height="6" fill="#000"/>
<rect x="92" y="23" width="1" height="4" fill="#fff"/>
<rect x="96" y="23" width="1" height="4" fill="#fff"/>
<rect x="107" y="22" width="21" height="6" fill="#000"/>
<rect x="112" y="23" width="1" height="4" fill="#fff"/>
<rect x="117" y="23" width="1" height="4" fill="#fff"/>
<rect x="121" y="23" width="1" height="4" fill="#fff"/>
<rect x="126" y="23" width="1" height="4" fill="#fff"/>
<rect x="109" y="24" width="2" height="2" fill="#fff"/>
<rect x="131" y="22" width="24" height="6" fill="#000"/>
<rect x="133" y="23" width="1" height="4" fill="#fff"/>
<rect x="138" y="23" width="1" height="4" fill="#fff"/>
<rect x="142" y="23" width="1" height="4" fill="#fff"/>
<rect x="147" y="23" width="1" height="4" fill="#fff"/>
<rect x="151" y="23" width="1" height="4" fill="#fff"/>
<rect x="158" y="22" width="11" height="6" fill="#000"/>
<rect x="160" y="23" width="1" height="4" fill="#fff"/>
<rect x="165" y="23" width="1" height="4" fill="#fff"/>
<rect x="87" y="3" width="26" height="14" rx="2.5" fill="#fff" stroke="#000" stroke-width="2"/>
<text x="99.2" y="12.6" font-size="10" fill="#000" text-anchor="middle" filter="url(#ta)"  letter-spacing="0.6">J17</text>
<rect x="155" y="3" width="25" height="13" rx="2.5" fill="#fff" stroke="#000" stroke-width="2"/>
<text x="167.10000000000002" y="12.6" font-size="10" fill="#000" text-anchor="middle" filter="url(#ta)"  letter-spacing="0.6">J15</text>
<rect x="102" y="34" width="26" height="13" rx="2.5" fill="#fff" stroke="#000" stroke-width="2"/>
<text x="114.3" y="43" font-size="10" fill="#000" text-anchor="middle" filter="url(#ta)"  letter-spacing="0.6">J18</text>
<rect x="182" y="19" width="26" height="13" rx="2.5" fill="#fff" stroke="#000" stroke-width="2"/>
<text x="194.8" y="28.9" font-size="10" fill="#000" text-anchor="middle" filter="url(#ta)"  letter-spacing="0.6">J14</text>
<polyline points="112,17 118,22" fill="none" stroke="#000" stroke-width="1.5" stroke-linejoin="miter"/>
<polyline points="160,16 154,22" fill="none" stroke="#000" stroke-width="1.5" stroke-linejoin="miter"/>
<polyline points="96,28 102,34" fill="none" stroke="#000" stroke-width="2" stroke-linejoin="miter"/>
<path d="M182,22.0L178,23.5H173V27.5H178L182,29.0Z" fill="#000"/>
<rect x="169" y="24.5" width="4" height="2.0" fill="#000"/>
<path d="M183,24.0L179.5,25.5L183,27.0Z" fill="#fff"/>
<rect x="172" y="38" width="5" height="14" fill="#000"/>
<rect x="173" y="41" width="3" height="1" fill="#fff"/>
<rect x="173" y="47" width="3" height="1" fill="#fff"/>
<rect x="191" y="40" width="23" height="11" rx="2.5" fill="#fff" stroke="#000" stroke-width="2"/>
<text x="202.3" y="48.9" font-size="10" fill="#000" text-anchor="middle" filter="url(#ta)"  letter-spacing="0.6">JP4</text>
<path d="M191,42.0L187,43.5H182V47.5H187L191,49.0Z" fill="#000"/>
<rect x="177" y="45.0" width="5" height="1.0" fill="#000"/>
<path d="M192,44.0L188.5,45.5L192,47.0Z" fill="#fff"/>
<rect x="51" y="29" width="5" height="21" fill="#000"/>
<rect x="52" y="31" width="3" height="1" fill="#fff"/>
<rect x="52" y="36" width="3" height="1" fill="#fff"/>
<rect x="52" y="40" width="3" height="1" fill="#fff"/>
<rect x="52" y="45" width="3" height="1" fill="#fff"/>
<rect x="11" y="32" width="27" height="13" rx="2.5" fill="#fff" stroke="#000" stroke-width="2"/>
<text x="23.900000000000002" y="41.6" font-size="10" fill="#000" text-anchor="middle" filter="url(#ta)"  letter-spacing="0.6">J22</text>
<path d="M38,34.5L42,36H47V40H42L38,41.5Z" fill="#000"/>
<rect x="47" y="37.0" width="4" height="2.0" fill="#000"/>
<path d="M37,36.5L40.5,38L37,39.5Z" fill="#fff"/>
<rect x="51" y="55" width="5" height="15" fill="#000"/>
<rect x="52" y="57" width="3" height="1" fill="#fff"/>
<rect x="52" y="62" width="3" height="1" fill="#fff"/>
<rect x="52" y="66" width="3" height="1" fill="#fff"/>
<rect x="11" y="56" width="27" height="13" rx="2.5" fill="#fff" stroke="#000" stroke-width="2"/>
<text x="24.1" y="66.2" font-size="10" fill="#000" text-anchor="middle" filter="url(#ta)"  letter-spacing="0.6">J21</text>
<path d="M38,59.0L42,60.5H47V64.5H42L38,66.0Z" fill="#000"/>
<rect x="47" y="61.5" width="4" height="2.0" fill="#000"/>
<path d="M37,61.0L40.5,62.5L37,64.0Z" fill="#fff"/>
<rect x="51" y="90" width="5" height="10" fill="#000"/>
<rect x="52" y="92" width="3" height="1" fill="#fff"/>
<rect x="52" y="96" width="3" height="1" fill="#fff"/>
<rect x="11" y="90" width="27" height="11" rx="2.5" fill="#fff" stroke="#000" stroke-width="2"/>
<text x="23.7" y="98.7" font-size="10" fill="#000" text-anchor="middle" filter="url(#ta)"  letter-spacing="0.6">J19</text>
<path d="M38,91.5L42,93H47V97H42L38,98.5Z" fill="#000"/>
<rect x="47" y="94.0" width="4" height="2.0" fill="#000"/>
<path d="M37,93.5L40.5,95L37,96.5Z" fill="#fff"/>
<rect x="49" y="122" width="6" height="12" fill="#000"/>
<rect x="56" y="122" width="6" height="12" fill="#000"/>
<rect x="50" y="123" width="4" height="1" fill="#fff"/>
<rect x="50" y="132" width="4" height="1" fill="#fff"/>
<rect x="57" y="123" width="4" height="1" fill="#fff"/>
<rect x="57" y="132" width="4" height="1" fill="#fff"/>
<rect x="5" y="120" width="31" height="12" rx="2.5" fill="#fff" stroke="#000" stroke-width="2"/>
<text x="20.3" y="129.8" font-size="10" fill="#000" text-anchor="middle" filter="url(#ta)"  letter-spacing="0.6">JP11</text>
<path d="M36,122.5L40,124H45V128H40L36,129.5Z" fill="#000"/>
<rect x="45" y="125.0" width="4" height="2.0" fill="#000"/>
<path d="M35,124.5L38.5,126L35,127.5Z" fill="#fff"/>
<rect x="42" y="135" width="6" height="11" fill="#000"/>
<rect x="43" y="136" width="4" height="1" fill="#fff"/>
<rect x="43" y="140" width="4" height="1" fill="#fff"/>
<rect x="49" y="135" width="6" height="11" fill="#000"/>
<rect x="50" y="136" width="4" height="1" fill="#fff"/>
<rect x="50" y="140" width="4" height="1" fill="#fff"/>
<rect x="56" y="135" width="6" height="11" fill="#000"/>
<rect x="57" y="136" width="4" height="1" fill="#fff"/>
<rect x="57" y="140" width="4" height="1" fill="#fff"/>
<rect x="3" y="136" width="28" height="13" rx="2.5" fill="#fff" stroke="#000" stroke-width="2"/>
<text x="16.3" y="145.8" font-size="10" fill="#000" text-anchor="middle" filter="url(#ta)"  letter-spacing="0.6">JP9</text>
<path d="M31,138.5L35,140H40V144H35L31,145.5Z" fill="#000"/>
<rect x="40" y="141.0" width="2" height="2.0" fill="#000"/>
<path d="M30,140.5L33.5,142L30,143.5Z" fill="#fff"/>
<rect x="21" y="152" width="26" height="12" rx="2.5" fill="#fff" stroke="#000" stroke-width="2"/>
<text x="33.199999999999996" y="161.4" font-size="10" fill="#000" text-anchor="middle" filter="url(#ta)"  letter-spacing="0.6">JP8</text>
<polyline points="52,146 45,152" fill="none" stroke="#000" stroke-width="2" stroke-linejoin="miter"/>
<rect x="74" y="121" width="32" height="14" fill="#000"/>
<rect x="75" y="122" width="30" height="12" fill="#fff"/>
<text x="89.2" y="131.6" font-size="10" fill="#000" text-anchor="middle" filter="url(#ta)"  letter-spacing="0.6">JP10</text>
<path d="M75,124.5L71,126H66V130H71L75,131.5Z" fill="#000"/>
<rect x="62" y="127.0" width="4" height="2.0" fill="#000"/>
<path d="M76,126.5L72.5,128L76,129.5Z" fill="#fff"/>
<rect x="73" y="135" width="29" height="14" fill="#000"/>
<rect x="74" y="136" width="27" height="12" fill="#fff"/>
<text x="85.3" y="145.6" font-size="10" fill="#000" text-anchor="middle" filter="url(#ta)"  letter-spacing="0.6">JP7</text>
<path d="M74,138.5L70,140H65V144H70L74,145.5Z" fill="#000"/>
<rect x="62" y="141.0" width="3" height="2.0" fill="#000"/>
<path d="M75,140.5L71.5,142L75,143.5Z" fill="#fff"/>
<rect x="48" y="185" width="19" height="32" fill="#000"/>
<rect x="54" y="185" width="1" height="1" fill="#fff"/>
<rect x="54" y="216" width="1" height="1" fill="#fff"/>
<rect x="60" y="185" width="1" height="1" fill="#fff"/>
<rect x="60" y="216" width="1" height="1" fill="#fff"/>
<rect x="48" y="185" width="1" height="1" fill="#fff"/>
<rect x="66" y="185" width="1" height="1" fill="#fff"/>
<rect x="48" y="216" width="1" height="1" fill="#fff"/>
<rect x="66" y="216" width="1" height="1" fill="#fff"/>
<rect x="49" y="188" width="3" height="3" fill="#fff"/>
<rect x="56" y="188" width="3" height="3" fill="#fff"/>
<rect x="62" y="188" width="3" height="3" fill="#fff"/>
<rect x="49" y="188" width="1" height="1" fill="#000"/>
<rect x="49" y="190" width="1" height="1" fill="#000"/>
<rect x="49" y="193" width="3" height="3" fill="#fff"/>
<rect x="56" y="193" width="3" height="3" fill="#fff"/>
<rect x="62" y="193" width="3" height="3" fill="#fff"/>
<rect x="49" y="193" width="1" height="1" fill="#000"/>
<rect x="49" y="195" width="1" height="1" fill="#000"/>
<rect x="49" y="198" width="3" height="3" fill="#fff"/>
<rect x="56" y="198" width="3" height="3" fill="#fff"/>
<rect x="62" y="198" width="3" height="3" fill="#fff"/>
<rect x="49" y="198" width="1" height="1" fill="#000"/>
<rect x="49" y="200" width="1" height="1" fill="#000"/>
<rect x="49" y="202" width="3" height="3" fill="#fff"/>
<rect x="56" y="202" width="3" height="3" fill="#fff"/>
<rect x="62" y="202" width="3" height="3" fill="#fff"/>
<rect x="49" y="202" width="1" height="1" fill="#000"/>
<rect x="49" y="204" width="1" height="1" fill="#000"/>
<rect x="49" y="207" width="3" height="3" fill="#fff"/>
<rect x="56" y="207" width="3" height="3" fill="#fff"/>
<rect x="62" y="207" width="3" height="3" fill="#fff"/>
<rect x="49" y="207" width="1" height="1" fill="#000"/>
<rect x="49" y="209" width="1" height="1" fill="#000"/>
<rect x="49" y="212" width="3" height="3" fill="#fff"/>
<rect x="56" y="212" width="3" height="3" fill="#fff"/>
<rect x="62" y="212" width="3" height="3" fill="#fff"/>
<rect x="49" y="212" width="1" height="1" fill="#000"/>
<rect x="49" y="214" width="1" height="1" fill="#000"/>
<rect x="8" y="195" width="27" height="13" rx="2.5" fill="#fff" stroke="#000" stroke-width="2"/>
<text x="22.3" y="205" font-size="10" fill="#000" text-anchor="middle" filter="url(#ta)"  letter-spacing="0.6">RN3</text>
<path d="M35,198.0L39,199.5H44V203.5H39L35,205.0Z" fill="#000"/>
<rect x="44" y="200.5" width="4" height="2.0" fill="#000"/>
<path d="M34,200.0L37.5,201.5L34,203.0Z" fill="#fff"/>
<rect x="73.5" y="183.5" width="2" height="23" fill="#fff" stroke="#000" stroke-width="1"/>
<rect x="79" y="194" width="27" height="12" fill="#000"/>
<rect x="80" y="195" width="25" height="10" fill="#fff"/>
<text x="91.5" y="203.6" font-size="10" fill="#000" text-anchor="middle" filter="url(#ta)"  letter-spacing="0.6">RN1</text>
<path d="M80,196.5L76,198H71V202H76L80,203.5Z" fill="#000"/>
<rect x="67" y="199.0" width="4" height="2.0" fill="#000"/>
<path d="M81,198.5L77.5,200L81,201.5Z" fill="#fff"/>
<polyline points="55,216 50,223" fill="none" stroke="#000" stroke-width="2" stroke-linejoin="miter"/>
<polyline points="61,216 53,224" fill="none" stroke="#000" stroke-width="1.5" stroke-linejoin="miter"/>
<rect x="498" y="79" width="15" height="6" fill="#000"/>
<rect x="500" y="81" width="2" height="2" fill="#fff"/>
<rect x="503" y="81" width="1" height="3" fill="#fff"/>
<rect x="509" y="81" width="1" height="3" fill="#fff"/>
<rect x="458" y="75" width="27" height="13" rx="2.5" fill="#fff" stroke="#000" stroke-width="2"/>
<text x="471.8" y="84.7" font-size="10" fill="#000" text-anchor="middle" filter="url(#ta)"  letter-spacing="0.6">JP2</text>
<path d="M485,79.0L489,80.5H494V84.5H489L485,86.0Z" fill="#000"/>
<rect x="494" y="82.0" width="4" height="1.0" fill="#000"/>
<path d="M484,81.0L487.5,82.5L484,84.0Z" fill="#fff"/>
<rect x="521" y="79" width="16" height="6" fill="#000"/>
<rect x="523" y="81" width="1" height="3" fill="#fff"/>
<rect x="525" y="81" width="2" height="2" fill="#fff"/>
<rect x="531" y="81" width="1" height="3" fill="#fff"/>
<rect x="549" y="75" width="28" height="13" rx="2.5" fill="#fff" stroke="#000" stroke-width="2"/>
<text x="561.8" y="84.7" font-size="10" fill="#000" text-anchor="middle" filter="url(#ta)"  letter-spacing="0.6">JP1</text>
<path d="M549,79.0L545,80.5H540V84.5H545L549,86.0Z" fill="#000"/>
<rect x="537" y="81.5" width="3" height="2.0" fill="#000"/>
<path d="M550,81.0L546.5,82.5L550,84.0Z" fill="#fff"/>
</svg>
</body></html>
